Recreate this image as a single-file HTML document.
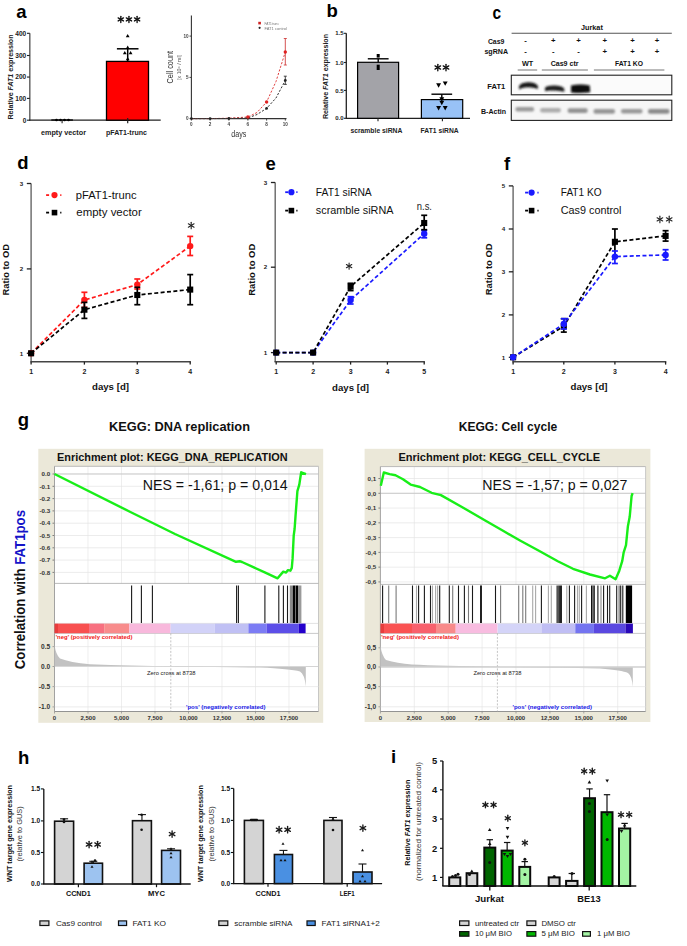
<!DOCTYPE html>
<html><head><meta charset="utf-8"><style>
html,body{margin:0;padding:0;background:#fff;}
svg{display:block;font-family:"Liberation Sans", sans-serif;}
</style></head><body>
<svg width="687" height="946" viewBox="0 0 687 946">
<rect width="687" height="946" fill="#fff"/>
<text x="16.20" y="17.90" font-size="18.5" fill="#000" font-weight="bold" >a</text>
<line x1="29.80" y1="33.30" x2="29.80" y2="120.80" stroke="#666" stroke-width="1.5" />
<line x1="29.20" y1="120.20" x2="160.70" y2="120.20" stroke="#222" stroke-width="1.3" />
<line x1="27.00" y1="33.30" x2="29.80" y2="33.30" stroke="#222" stroke-width="1.1" />
<text x="26.30" y="35.60" font-size="6.6" fill="#222" font-weight="bold" text-anchor="end" >400</text>
<line x1="27.00" y1="55.50" x2="29.80" y2="55.50" stroke="#222" stroke-width="1.1" />
<text x="26.30" y="57.80" font-size="6.6" fill="#222" font-weight="bold" text-anchor="end" >300</text>
<line x1="27.00" y1="77.05" x2="29.80" y2="77.05" stroke="#222" stroke-width="1.1" />
<text x="26.30" y="79.35" font-size="6.6" fill="#222" font-weight="bold" text-anchor="end" >200</text>
<line x1="27.00" y1="98.40" x2="29.80" y2="98.40" stroke="#222" stroke-width="1.1" />
<text x="26.30" y="100.70" font-size="6.6" fill="#222" font-weight="bold" text-anchor="end" >100</text>
<line x1="27.00" y1="120.20" x2="29.80" y2="120.20" stroke="#222" stroke-width="1.1" />
<text x="26.30" y="122.50" font-size="6.6" fill="#222" font-weight="bold" text-anchor="end" >0</text>
<text x="10.8" y="77" font-size="7.6" font-weight="bold" fill="#222" text-anchor="middle" transform="rotate(-90 10.8 77) translate(0 2.6)" textLength="85" lengthAdjust="spacingAndGlyphs">Relative <tspan font-style="italic">FAT1</tspan> expression</text>
<line x1="51.30" y1="120.00" x2="72.90" y2="120.00" stroke="#000" stroke-width="1.3" />
<circle cx="56.50" cy="120.00" r="1.30" fill="#000" />
<circle cx="60.50" cy="120.00" r="1.30" fill="#000" />
<circle cx="64.50" cy="120.00" r="1.30" fill="#000" />
<circle cx="68.50" cy="120.00" r="1.30" fill="#000" />
<line x1="62.10" y1="120.20" x2="62.10" y2="123.20" stroke="#222" stroke-width="1.1" />
<rect x="106.50" y="61.40" width="42.00" height="58.80" fill="#ff0000" stroke="#000" stroke-width="1.3" />
<line x1="127.70" y1="48.80" x2="127.70" y2="61.40" stroke="#000" stroke-width="1.5" />
<line x1="116.90" y1="48.80" x2="138.50" y2="48.80" stroke="#000" stroke-width="1.5" />
<polygon points="125.80,37.31 129.60,37.31 127.70,33.89" fill="#000"/>
<polygon points="125.80,48.91 129.60,48.91 127.70,45.49" fill="#000"/>
<polygon points="122.90,54.31 126.70,54.31 124.80,50.89" fill="#000"/>
<polygon points="128.70,54.31 132.50,54.31 130.60,50.89" fill="#000"/>
<polygon points="125.80,60.31 129.60,60.31 127.70,56.89" fill="#000"/>
<line x1="127.70" y1="118.00" x2="127.70" y2="123.20" stroke="#222" stroke-width="1.2" />
<line x1="120.80" y1="16.35" x2="120.80" y2="22.45" stroke="#111" stroke-width="1.35" stroke-linecap="round"/>
<line x1="118.16" y1="17.88" x2="123.44" y2="20.92" stroke="#111" stroke-width="1.35" stroke-linecap="round"/>
<line x1="123.44" y1="17.88" x2="118.16" y2="20.92" stroke="#111" stroke-width="1.35" stroke-linecap="round"/>
<line x1="128.95" y1="16.35" x2="128.95" y2="22.45" stroke="#111" stroke-width="1.35" stroke-linecap="round"/>
<line x1="126.31" y1="17.88" x2="131.59" y2="20.92" stroke="#111" stroke-width="1.35" stroke-linecap="round"/>
<line x1="131.59" y1="17.88" x2="126.31" y2="20.92" stroke="#111" stroke-width="1.35" stroke-linecap="round"/>
<line x1="137.10" y1="16.35" x2="137.10" y2="22.45" stroke="#111" stroke-width="1.35" stroke-linecap="round"/>
<line x1="134.46" y1="17.88" x2="139.74" y2="20.92" stroke="#111" stroke-width="1.35" stroke-linecap="round"/>
<line x1="139.74" y1="17.88" x2="134.46" y2="20.92" stroke="#111" stroke-width="1.35" stroke-linecap="round"/>
<text x="63.50" y="134.80" font-size="7.8" fill="#222" font-weight="bold" text-anchor="middle" textLength="45.00" lengthAdjust="spacingAndGlyphs" >empty vector</text>
<text x="126.50" y="134.80" font-size="7.8" fill="#222" font-weight="bold" text-anchor="middle" textLength="41.00" lengthAdjust="spacingAndGlyphs" >pFAT1-trunc</text>
<defs><filter id="soft" x="-5%" y="-5%" width="110%" height="110%"><feGaussianBlur stdDeviation="0.45"/></filter></defs>
<g filter="url(#soft)">
<line x1="191.40" y1="15.50" x2="191.40" y2="118.60" stroke="#333" stroke-width="1.1" />
<line x1="191.40" y1="118.60" x2="286.50" y2="118.60" stroke="#333" stroke-width="1.1" />
<line x1="189.50" y1="36.10" x2="191.40" y2="36.10" stroke="#333" stroke-width="0.9" />
<text x="188.60" y="37.80" font-size="4.6" fill="#444" font-weight="bold" text-anchor="end" >10</text>
<line x1="189.50" y1="77.40" x2="191.40" y2="77.40" stroke="#333" stroke-width="0.9" />
<text x="188.60" y="79.10" font-size="4.6" fill="#444" font-weight="bold" text-anchor="end" >5</text>
<line x1="189.50" y1="118.60" x2="191.40" y2="118.60" stroke="#333" stroke-width="0.9" />
<text x="188.60" y="120.30" font-size="4.6" fill="#444" font-weight="bold" text-anchor="end" >0</text>
<line x1="191.40" y1="118.60" x2="191.40" y2="120.60" stroke="#333" stroke-width="0.9" />
<text x="191.40" y="126.00" font-size="4.6" fill="#444" font-weight="bold" text-anchor="middle" >0</text>
<line x1="210.10" y1="118.60" x2="210.10" y2="120.60" stroke="#333" stroke-width="0.9" />
<text x="210.10" y="126.00" font-size="4.6" fill="#444" font-weight="bold" text-anchor="middle" >2</text>
<line x1="228.90" y1="118.60" x2="228.90" y2="120.60" stroke="#333" stroke-width="0.9" />
<text x="228.90" y="126.00" font-size="4.6" fill="#444" font-weight="bold" text-anchor="middle" >4</text>
<line x1="247.90" y1="118.60" x2="247.90" y2="120.60" stroke="#333" stroke-width="0.9" />
<text x="247.90" y="126.00" font-size="4.6" fill="#444" font-weight="bold" text-anchor="middle" >6</text>
<line x1="266.60" y1="118.60" x2="266.60" y2="120.60" stroke="#333" stroke-width="0.9" />
<text x="266.60" y="126.00" font-size="4.6" fill="#444" font-weight="bold" text-anchor="middle" >8</text>
<line x1="285.30" y1="118.60" x2="285.30" y2="120.60" stroke="#333" stroke-width="0.9" />
<text x="285.30" y="126.00" font-size="4.6" fill="#444" font-weight="bold" text-anchor="middle" >10</text>
<text x="173.00" y="67.20" font-size="8.4" fill="#333" text-anchor="middle" textLength="32.50" lengthAdjust="spacingAndGlyphs" transform="rotate(-90 173.00 67.20)" >Cell count</text>
<text x="181.20" y="67.40" font-size="4.6" fill="#555" text-anchor="middle" textLength="25.00" lengthAdjust="spacingAndGlyphs" transform="rotate(-90 181.20 67.40)" >[x 10⁵ / ml]</text>
<text x="238.80" y="137.00" font-size="8.2" fill="#333" text-anchor="middle" textLength="15.00" lengthAdjust="spacingAndGlyphs" >days</text>
<polyline points="191.40,118.60 210.10,118.60 228.90,118.20 247.90,117.00 257.00,112.50 266.60,102.00 276.00,81.50 285.30,52.00" fill="none" stroke="#e04040" stroke-width="1.0" stroke-dasharray="2.2,1.6" />
<polyline points="191.40,118.60 210.10,118.60 228.90,118.50 247.90,118.00 257.00,114.50 266.60,108.40 276.00,98.00 285.30,80.40" fill="none" stroke="#333" stroke-width="1.0" stroke-dasharray="2.2,1.6" />
<line x1="285.30" y1="38.50" x2="285.30" y2="65.00" stroke="#d04040" stroke-width="0.9" />
<line x1="283.80" y1="38.50" x2="286.80" y2="38.50" stroke="#d04040" stroke-width="0.9" />
<line x1="283.80" y1="65.00" x2="286.80" y2="65.00" stroke="#d04040" stroke-width="0.9" />
<line x1="285.30" y1="76.20" x2="285.30" y2="84.40" stroke="#333" stroke-width="0.9" />
<line x1="283.80" y1="76.20" x2="286.80" y2="76.20" stroke="#333" stroke-width="0.9" />
<line x1="283.80" y1="84.40" x2="286.80" y2="84.40" stroke="#333" stroke-width="0.9" />
<circle cx="191.40" cy="118.60" r="1.40" fill="#222" />
<circle cx="210.10" cy="118.60" r="1.40" fill="#222" />
<circle cx="228.90" cy="118.50" r="1.40" fill="#222" />
<circle cx="247.90" cy="118.00" r="1.40" fill="#222" />
<circle cx="266.60" cy="108.40" r="1.40" fill="#222" />
<circle cx="285.30" cy="80.40" r="1.40" fill="#222" />
<circle cx="247.90" cy="117.00" r="1.70" fill="#e02020" />
<circle cx="266.60" cy="102.00" r="1.70" fill="#e02020" />
<circle cx="285.30" cy="52.00" r="1.70" fill="#e02020" />
<rect x="258.30" y="21.80" width="2.60" height="2.60" fill="#d02020" />
<text x="264.50" y="24.60" font-size="4.0" fill="#777" textLength="14.50" lengthAdjust="spacingAndGlyphs" >FAT1trunc</text>
<circle cx="259.60" cy="27.80" r="1.10" fill="#222" />
<text x="264.50" y="29.60" font-size="4.0" fill="#777" textLength="22.50" lengthAdjust="spacingAndGlyphs" >FAT1 control</text>
</g>
<text x="326.50" y="17.40" font-size="18.5" fill="#000" font-weight="bold" >b</text>
<line x1="346.30" y1="33.30" x2="346.30" y2="118.80" stroke="#222" stroke-width="1.3" />
<line x1="345.80" y1="118.30" x2="470.00" y2="118.30" stroke="#222" stroke-width="1.3" />
<line x1="343.90" y1="33.30" x2="346.30" y2="33.30" stroke="#222" stroke-width="1.1" />
<text x="343.50" y="35.40" font-size="6.0" fill="#222" font-weight="bold" text-anchor="end" >1.5</text>
<line x1="343.90" y1="62.50" x2="346.30" y2="62.50" stroke="#222" stroke-width="1.1" />
<text x="343.50" y="64.60" font-size="6.0" fill="#222" font-weight="bold" text-anchor="end" >1.0</text>
<line x1="343.90" y1="90.40" x2="346.30" y2="90.40" stroke="#222" stroke-width="1.1" />
<text x="343.50" y="92.50" font-size="6.0" fill="#222" font-weight="bold" text-anchor="end" >0.5</text>
<line x1="343.90" y1="118.30" x2="346.30" y2="118.30" stroke="#222" stroke-width="1.1" />
<text x="343.50" y="120.40" font-size="6.0" fill="#222" font-weight="bold" text-anchor="end" >0.0</text>
<text x="325.0" y="76.5" font-size="7.6" font-weight="bold" fill="#222" text-anchor="middle" transform="rotate(-90 325.0 76.5) translate(0 2.6)" textLength="85" lengthAdjust="spacingAndGlyphs">Relative <tspan font-style="italic">FAT1</tspan> expression</text>
<rect x="357.60" y="62.30" width="41.00" height="56.00" fill="#a3a3a8" stroke="#000" stroke-width="1.2" />
<line x1="378.20" y1="58.80" x2="378.20" y2="62.30" stroke="#000" stroke-width="1.4" />
<line x1="367.80" y1="58.80" x2="388.60" y2="58.80" stroke="#000" stroke-width="1.4" />
<rect x="376.70" y="54.00" width="3.00" height="3.60" fill="#000" />
<rect x="376.70" y="64.70" width="3.00" height="5.30" fill="#000" />
<line x1="378.00" y1="118.30" x2="378.00" y2="121.30" stroke="#222" stroke-width="1.1" />
<rect x="421.40" y="99.60" width="41.30" height="18.70" fill="#98c2f6" stroke="#000" stroke-width="1.2" />
<line x1="441.80" y1="94.20" x2="441.80" y2="99.60" stroke="#000" stroke-width="1.4" />
<line x1="431.45" y1="94.20" x2="452.15" y2="94.20" stroke="#000" stroke-width="1.4" />
<polygon points="436.15,83.30 441.05,83.30 438.60,87.70" fill="#000"/>
<polygon points="442.75,81.39 447.65,81.39 445.20,85.80" fill="#000"/>
<polygon points="439.35,100.80 444.25,100.80 441.80,105.20" fill="#000"/>
<polygon points="439.35,97.30 444.25,97.30 441.80,101.70" fill="#000"/>
<polygon points="436.15,106.09 441.05,106.09 438.60,110.50" fill="#000"/>
<polygon points="442.75,106.09 447.65,106.09 445.20,110.50" fill="#000"/>
<line x1="442.40" y1="118.30" x2="442.40" y2="121.30" stroke="#222" stroke-width="1.1" />
<line x1="437.80" y1="64.30" x2="437.80" y2="70.70" stroke="#111" stroke-width="1.35" stroke-linecap="round"/>
<line x1="435.03" y1="65.90" x2="440.57" y2="69.10" stroke="#111" stroke-width="1.35" stroke-linecap="round"/>
<line x1="440.57" y1="65.90" x2="435.03" y2="69.10" stroke="#111" stroke-width="1.35" stroke-linecap="round"/>
<line x1="446.00" y1="64.30" x2="446.00" y2="70.70" stroke="#111" stroke-width="1.35" stroke-linecap="round"/>
<line x1="443.23" y1="65.90" x2="448.77" y2="69.10" stroke="#111" stroke-width="1.35" stroke-linecap="round"/>
<line x1="448.77" y1="65.90" x2="443.23" y2="69.10" stroke="#111" stroke-width="1.35" stroke-linecap="round"/>
<text x="376.40" y="133.00" font-size="7.8" fill="#222" font-weight="bold" text-anchor="middle" textLength="52.00" lengthAdjust="spacingAndGlyphs" >scramble siRNA</text>
<text x="439.60" y="133.00" font-size="7.8" fill="#222" font-weight="bold" text-anchor="middle" textLength="38.00" lengthAdjust="spacingAndGlyphs" >FAT1 siRNA</text>
<text x="0" y="0" font-size="18.5" font-weight="bold" fill="#000" transform="translate(492.6 18.5) scale(0.84 1)">c</text>
<text x="591.90" y="30.00" font-size="7.8" fill="#111" font-weight="bold" text-anchor="middle" textLength="21.80" lengthAdjust="spacingAndGlyphs" >Jurkat</text>
<line x1="511.60" y1="33.20" x2="671.80" y2="33.20" stroke="#555" stroke-width="1.1" />
<text x="487.90" y="44.20" font-size="7.3" fill="#111" font-weight="bold" textLength="16.50" lengthAdjust="spacingAndGlyphs" >Cas9</text>
<text x="484.40" y="54.40" font-size="7.3" fill="#111" font-weight="bold" textLength="23.60" lengthAdjust="spacingAndGlyphs" >sgRNA</text>
<text x="525.60" y="43.40" font-size="7.8" fill="#111" font-weight="bold" text-anchor="middle" >-</text>
<text x="525.60" y="54.20" font-size="7.8" fill="#111" font-weight="bold" text-anchor="middle" >-</text>
<text x="553.40" y="43.40" font-size="7.8" fill="#111" font-weight="bold" text-anchor="middle" >+</text>
<text x="553.40" y="54.20" font-size="7.8" fill="#111" font-weight="bold" text-anchor="middle" >-</text>
<text x="578.50" y="43.40" font-size="7.8" fill="#111" font-weight="bold" text-anchor="middle" >+</text>
<text x="578.50" y="54.20" font-size="7.8" fill="#111" font-weight="bold" text-anchor="middle" >-</text>
<text x="604.70" y="43.40" font-size="7.8" fill="#111" font-weight="bold" text-anchor="middle" >+</text>
<text x="604.70" y="54.20" font-size="7.8" fill="#111" font-weight="bold" text-anchor="middle" >+</text>
<text x="632.50" y="43.40" font-size="7.8" fill="#111" font-weight="bold" text-anchor="middle" >+</text>
<text x="632.50" y="54.20" font-size="7.8" fill="#111" font-weight="bold" text-anchor="middle" >+</text>
<text x="657.00" y="43.40" font-size="7.8" fill="#111" font-weight="bold" text-anchor="middle" >+</text>
<text x="657.00" y="54.20" font-size="7.8" fill="#111" font-weight="bold" text-anchor="middle" >+</text>
<text x="527.60" y="66.40" font-size="7.6" fill="#111" font-weight="bold" text-anchor="middle" textLength="11.30" lengthAdjust="spacingAndGlyphs" >WT</text>
<text x="564.60" y="66.40" font-size="7.6" fill="#111" font-weight="bold" text-anchor="middle" textLength="27.90" lengthAdjust="spacingAndGlyphs" >Cas9 ctr</text>
<text x="629.00" y="66.40" font-size="7.6" fill="#111" font-weight="bold" text-anchor="middle" textLength="28.00" lengthAdjust="spacingAndGlyphs" >FAT1 KO</text>
<line x1="517.70" y1="70.00" x2="537.20" y2="70.00" stroke="#777" stroke-width="1.0" />
<line x1="541.80" y1="70.00" x2="587.90" y2="70.00" stroke="#777" stroke-width="1.0" />
<line x1="593.90" y1="70.00" x2="664.40" y2="70.00" stroke="#777" stroke-width="1.0" />
<defs><filter id="bl" x="-50%" y="-50%" width="200%" height="200%"><feGaussianBlur stdDeviation="1.1"/></filter><filter id="bl2" x="-50%" y="-50%" width="200%" height="200%"><feGaussianBlur stdDeviation="0.8"/></filter></defs>
<rect x="511.30" y="75.20" width="160.50" height="19.60" fill="#fbfbfb" stroke="#222" stroke-width="1.1" />
<rect x="511.30" y="100.20" width="160.50" height="20.20" fill="#f6f6f6" stroke="#222" stroke-width="1.1" />
<g filter="url(#bl2)">
<path d="M518.8,86.8 Q520,82.6 528,82.2 Q536,82.4 538,86.2 L538,89.0 Q536,87.6 528,87.2 Q521,87.4 519.2,89.6 Z" fill="#151515"/>
<path d="M544.8,88.0 Q547,85.6 554,85.6 Q562,85.8 564.2,88.6 L564.4,91.8 Q560,90.8 554,90.6 Q547.5,90.4 545.2,91.2 Z" fill="#1c1c1c"/>
<path d="M571.0,85.6 Q580,83.6 589.8,85.4 L590.2,92.2 Q580,93.6 571.0,92.4 Z" fill="#0a0a0a"/>
</g>
<g filter="url(#bl)">
<rect x="515.4" y="106.9" width="18.7" height="4.6" rx="2" fill="#9a9a9a"/>
<rect x="540.1" y="107.9" width="20.8" height="4.6" rx="2" fill="#acacac"/>
<rect x="567.6" y="108.3" width="20.1" height="4.6" rx="2" fill="#929292"/>
<rect x="593.5" y="109.1" width="21.5" height="4.6" rx="2" fill="#959595"/>
<rect x="621.0" y="108.9" width="21.5" height="4.6" rx="2" fill="#989898"/>
<rect x="648.0" y="109.1" width="21.5" height="4.6" rx="2" fill="#8a8a8a"/>
</g>
<text x="487.30" y="89.00" font-size="7.8" fill="#111" font-weight="bold" textLength="18.00" lengthAdjust="spacingAndGlyphs" >FAT1</text>
<text x="481.00" y="113.80" font-size="7.8" fill="#111" font-weight="bold" textLength="25.00" lengthAdjust="spacingAndGlyphs" >B-Actin</text>
<text x="17.30" y="169.40" font-size="18.5" fill="#000" font-weight="bold" >d</text>
<line x1="31.10" y1="183.50" x2="31.10" y2="361.80" stroke="#666" stroke-width="1.4" />
<line x1="30.40" y1="361.80" x2="190.90" y2="361.80" stroke="#444" stroke-width="1.6" />
<line x1="26.80" y1="183.50" x2="31.10" y2="183.50" stroke="#222" stroke-width="1.3" />
<text x="23.10" y="185.70" font-size="6.2" fill="#222" font-weight="bold" text-anchor="end" >3</text>
<line x1="26.80" y1="268.90" x2="31.10" y2="268.90" stroke="#222" stroke-width="1.3" />
<text x="23.10" y="271.10" font-size="6.2" fill="#222" font-weight="bold" text-anchor="end" >2</text>
<line x1="26.80" y1="353.30" x2="31.10" y2="353.30" stroke="#222" stroke-width="1.3" />
<text x="23.10" y="355.50" font-size="6.2" fill="#222" font-weight="bold" text-anchor="end" >1</text>
<line x1="31.10" y1="361.80" x2="31.10" y2="364.60" stroke="#222" stroke-width="1.3" />
<text x="31.10" y="374.00" font-size="7.0" fill="#222" font-weight="bold" text-anchor="middle" >1</text>
<line x1="84.40" y1="361.80" x2="84.40" y2="364.60" stroke="#222" stroke-width="1.3" />
<text x="84.40" y="374.00" font-size="7.0" fill="#222" font-weight="bold" text-anchor="middle" >2</text>
<line x1="137.30" y1="361.80" x2="137.30" y2="364.60" stroke="#222" stroke-width="1.3" />
<text x="137.30" y="374.00" font-size="7.0" fill="#222" font-weight="bold" text-anchor="middle" >3</text>
<line x1="190.20" y1="361.80" x2="190.20" y2="364.60" stroke="#222" stroke-width="1.3" />
<text x="190.20" y="374.00" font-size="7.0" fill="#222" font-weight="bold" text-anchor="middle" >4</text>
<polyline points="31.10,353.30 84.40,300.00 137.30,284.60 190.20,246.10" fill="none" stroke="#ff1a1a" stroke-width="1.7" stroke-dasharray="4,2.4" />
<polyline points="31.10,353.30 84.40,309.70 137.30,295.00 190.20,289.60" fill="none" stroke="#000" stroke-width="1.7" stroke-dasharray="4,2.4" />
<line x1="84.40" y1="292.30" x2="84.40" y2="307.40" stroke="#ff1a1a" stroke-width="1.7" />
<line x1="81.40" y1="292.30" x2="87.40" y2="292.30" stroke="#ff1a1a" stroke-width="1.7" />
<line x1="81.40" y1="307.40" x2="87.40" y2="307.40" stroke="#ff1a1a" stroke-width="1.7" />
<line x1="137.30" y1="279.00" x2="137.30" y2="289.00" stroke="#ff1a1a" stroke-width="1.7" />
<line x1="134.30" y1="279.00" x2="140.30" y2="279.00" stroke="#ff1a1a" stroke-width="1.7" />
<line x1="134.30" y1="289.00" x2="140.30" y2="289.00" stroke="#ff1a1a" stroke-width="1.7" />
<line x1="190.20" y1="236.40" x2="190.20" y2="255.50" stroke="#ff1a1a" stroke-width="1.7" />
<line x1="187.20" y1="236.40" x2="193.20" y2="236.40" stroke="#ff1a1a" stroke-width="1.7" />
<line x1="187.20" y1="255.50" x2="193.20" y2="255.50" stroke="#ff1a1a" stroke-width="1.7" />
<circle cx="31.10" cy="353.30" r="3.20" fill="#ff1a1a" />
<circle cx="84.40" cy="300.00" r="3.20" fill="#ff1a1a" />
<circle cx="137.30" cy="284.60" r="3.20" fill="#ff1a1a" />
<circle cx="190.20" cy="246.10" r="3.20" fill="#ff1a1a" />
<line x1="84.40" y1="302.40" x2="84.40" y2="318.40" stroke="#000" stroke-width="1.7" />
<line x1="81.40" y1="302.40" x2="87.40" y2="302.40" stroke="#000" stroke-width="1.7" />
<line x1="81.40" y1="318.40" x2="87.40" y2="318.40" stroke="#000" stroke-width="1.7" />
<line x1="137.30" y1="287.30" x2="137.30" y2="304.70" stroke="#000" stroke-width="1.7" />
<line x1="134.30" y1="287.30" x2="140.30" y2="287.30" stroke="#000" stroke-width="1.7" />
<line x1="134.30" y1="304.70" x2="140.30" y2="304.70" stroke="#000" stroke-width="1.7" />
<line x1="190.20" y1="274.60" x2="190.20" y2="304.70" stroke="#000" stroke-width="1.7" />
<line x1="187.20" y1="274.60" x2="193.20" y2="274.60" stroke="#000" stroke-width="1.7" />
<line x1="187.20" y1="304.70" x2="193.20" y2="304.70" stroke="#000" stroke-width="1.7" />
<rect x="28.05" y="350.25" width="6.10" height="6.10" fill="#000" />
<rect x="81.35" y="306.65" width="6.10" height="6.10" fill="#000" />
<rect x="134.25" y="291.95" width="6.10" height="6.10" fill="#000" />
<rect x="187.15" y="286.55" width="6.10" height="6.10" fill="#000" />
<line x1="46.10" y1="195.10" x2="49.10" y2="195.10" stroke="#ff1a1a" stroke-width="1.8" />
<line x1="60.20" y1="195.10" x2="61.40" y2="195.10" stroke="#ff1a1a" stroke-width="1.8" />
<circle cx="54.50" cy="195.10" r="3.10" fill="#ff1a1a" />
<text x="75.80" y="198.90" font-size="11.0" fill="#111" textLength="60.70" lengthAdjust="spacingAndGlyphs" >pFAT1-trunc</text>
<line x1="46.10" y1="212.60" x2="49.10" y2="212.60" stroke="#000" stroke-width="1.8" />
<line x1="60.20" y1="212.60" x2="61.40" y2="212.60" stroke="#000" stroke-width="1.8" />
<rect x="51.70" y="209.80" width="5.60" height="5.60" fill="#000" />
<text x="76.30" y="216.40" font-size="11.0" fill="#111" textLength="65.50" lengthAdjust="spacingAndGlyphs" >empty vector</text>
<line x1="191.20" y1="222.20" x2="191.20" y2="228.80" stroke="#222" stroke-width="1.1" stroke-linecap="round"/>
<line x1="188.34" y1="223.85" x2="194.06" y2="227.15" stroke="#222" stroke-width="1.1" stroke-linecap="round"/>
<line x1="194.06" y1="223.85" x2="188.34" y2="227.15" stroke="#222" stroke-width="1.1" stroke-linecap="round"/>
<text x="9.10" y="269.80" font-size="9.8" fill="#111" font-weight="bold" text-anchor="middle" textLength="51.50" lengthAdjust="spacingAndGlyphs" transform="rotate(-90 9.10 269.80)" >Ratio to OD</text>
<text x="110.50" y="390.00" font-size="9.6" fill="#111" font-weight="bold" text-anchor="middle" textLength="37.00" lengthAdjust="spacingAndGlyphs" >days [d]</text>
<text x="265.60" y="170.00" font-size="18.5" fill="#000" font-weight="bold" >e</text>
<line x1="275.20" y1="182.50" x2="275.20" y2="361.80" stroke="#666" stroke-width="1.4" />
<line x1="274.50" y1="361.80" x2="424.90" y2="361.80" stroke="#444" stroke-width="1.6" />
<line x1="270.90" y1="182.50" x2="275.20" y2="182.50" stroke="#222" stroke-width="1.3" />
<text x="267.20" y="184.70" font-size="6.2" fill="#222" font-weight="bold" text-anchor="end" >3</text>
<line x1="270.90" y1="267.20" x2="275.20" y2="267.20" stroke="#222" stroke-width="1.3" />
<text x="267.20" y="269.40" font-size="6.2" fill="#222" font-weight="bold" text-anchor="end" >2</text>
<line x1="270.90" y1="352.60" x2="275.20" y2="352.60" stroke="#222" stroke-width="1.3" />
<text x="267.20" y="354.80" font-size="6.2" fill="#222" font-weight="bold" text-anchor="end" >1</text>
<line x1="276.20" y1="361.80" x2="276.20" y2="364.60" stroke="#222" stroke-width="1.3" />
<text x="276.20" y="374.00" font-size="7.0" fill="#222" font-weight="bold" text-anchor="middle" >1</text>
<line x1="313.10" y1="361.80" x2="313.10" y2="364.60" stroke="#222" stroke-width="1.3" />
<text x="313.10" y="374.00" font-size="7.0" fill="#222" font-weight="bold" text-anchor="middle" >2</text>
<line x1="350.60" y1="361.80" x2="350.60" y2="364.60" stroke="#222" stroke-width="1.3" />
<text x="350.60" y="374.00" font-size="7.0" fill="#222" font-weight="bold" text-anchor="middle" >3</text>
<line x1="387.40" y1="361.80" x2="387.40" y2="364.60" stroke="#222" stroke-width="1.3" />
<text x="387.40" y="374.00" font-size="7.0" fill="#222" font-weight="bold" text-anchor="middle" >4</text>
<line x1="424.20" y1="361.80" x2="424.20" y2="364.60" stroke="#222" stroke-width="1.3" />
<text x="424.20" y="374.00" font-size="7.0" fill="#222" font-weight="bold" text-anchor="middle" >5</text>
<polyline points="276.20,352.60 313.10,352.60 350.60,300.00 424.20,233.70" fill="none" stroke="#1a1aff" stroke-width="1.7" stroke-dasharray="4,2.4" />
<polyline points="276.20,352.60 313.10,352.60 350.60,286.60 424.20,223.00" fill="none" stroke="#000" stroke-width="1.7" stroke-dasharray="4,2.4" />
<line x1="350.60" y1="296.70" x2="350.60" y2="304.00" stroke="#1a1aff" stroke-width="1.7" />
<line x1="347.60" y1="296.70" x2="353.60" y2="296.70" stroke="#1a1aff" stroke-width="1.7" />
<line x1="347.60" y1="304.00" x2="353.60" y2="304.00" stroke="#1a1aff" stroke-width="1.7" />
<line x1="424.20" y1="230.40" x2="424.20" y2="237.80" stroke="#1a1aff" stroke-width="1.7" />
<line x1="421.20" y1="230.40" x2="427.20" y2="230.40" stroke="#1a1aff" stroke-width="1.7" />
<line x1="421.20" y1="237.80" x2="427.20" y2="237.80" stroke="#1a1aff" stroke-width="1.7" />
<circle cx="276.20" cy="352.60" r="3.20" fill="#1a1aff" />
<circle cx="313.10" cy="352.60" r="3.20" fill="#1a1aff" />
<circle cx="350.60" cy="300.00" r="3.20" fill="#1a1aff" />
<circle cx="424.20" cy="233.70" r="3.20" fill="#1a1aff" />
<line x1="350.60" y1="283.30" x2="350.60" y2="290.60" stroke="#000" stroke-width="1.7" />
<line x1="347.60" y1="283.30" x2="353.60" y2="283.30" stroke="#000" stroke-width="1.7" />
<line x1="347.60" y1="290.60" x2="353.60" y2="290.60" stroke="#000" stroke-width="1.7" />
<line x1="424.20" y1="215.30" x2="424.20" y2="229.70" stroke="#000" stroke-width="1.7" />
<line x1="421.20" y1="215.30" x2="427.20" y2="215.30" stroke="#000" stroke-width="1.7" />
<line x1="421.20" y1="229.70" x2="427.20" y2="229.70" stroke="#000" stroke-width="1.7" />
<rect x="273.15" y="349.55" width="6.10" height="6.10" fill="#000" />
<rect x="310.05" y="349.55" width="6.10" height="6.10" fill="#000" />
<rect x="347.55" y="283.55" width="6.10" height="6.10" fill="#000" />
<rect x="421.15" y="219.95" width="6.10" height="6.10" fill="#000" />
<line x1="285.20" y1="192.20" x2="288.20" y2="192.20" stroke="#1a1aff" stroke-width="1.8" />
<line x1="296.30" y1="192.20" x2="297.50" y2="192.20" stroke="#1a1aff" stroke-width="1.8" />
<circle cx="291.40" cy="192.20" r="3.10" fill="#1a1aff" />
<text x="315.80" y="196.00" font-size="11.0" fill="#111" textLength="55.90" lengthAdjust="spacingAndGlyphs" >FAT1 siRNA</text>
<line x1="285.20" y1="210.60" x2="288.20" y2="210.60" stroke="#000" stroke-width="1.8" />
<line x1="296.30" y1="210.60" x2="297.50" y2="210.60" stroke="#000" stroke-width="1.8" />
<rect x="288.60" y="207.80" width="5.60" height="5.60" fill="#000" />
<text x="315.80" y="214.40" font-size="11.0" fill="#111" textLength="77.70" lengthAdjust="spacingAndGlyphs" >scramble siRNA</text>
<line x1="349.10" y1="263.00" x2="349.10" y2="269.20" stroke="#222" stroke-width="1.1" stroke-linecap="round"/>
<line x1="346.42" y1="264.55" x2="351.78" y2="267.65" stroke="#222" stroke-width="1.1" stroke-linecap="round"/>
<line x1="351.78" y1="264.55" x2="346.42" y2="267.65" stroke="#222" stroke-width="1.1" stroke-linecap="round"/>
<text x="424.40" y="210.00" font-size="10.5" fill="#222" text-anchor="middle" textLength="15.20" lengthAdjust="spacingAndGlyphs" >n.s.</text>
<text x="254.50" y="269.75" font-size="9.8" fill="#111" font-weight="bold" text-anchor="middle" textLength="52.00" lengthAdjust="spacingAndGlyphs" transform="rotate(-90 254.50 269.75)" >Ratio to OD</text>
<text x="350.60" y="390.70" font-size="9.6" fill="#111" font-weight="bold" text-anchor="middle" textLength="37.00" lengthAdjust="spacingAndGlyphs" >days [d]</text>
<text x="504.00" y="170.30" font-size="18.5" fill="#000" font-weight="bold" >f</text>
<line x1="513.10" y1="185.90" x2="513.10" y2="361.80" stroke="#666" stroke-width="1.4" />
<line x1="512.40" y1="361.80" x2="666.30" y2="361.80" stroke="#444" stroke-width="1.6" />
<line x1="508.80" y1="185.90" x2="513.10" y2="185.90" stroke="#222" stroke-width="1.3" />
<text x="505.10" y="188.10" font-size="6.2" fill="#222" font-weight="bold" text-anchor="end" >5</text>
<line x1="508.80" y1="229.00" x2="513.10" y2="229.00" stroke="#222" stroke-width="1.3" />
<text x="505.10" y="231.20" font-size="6.2" fill="#222" font-weight="bold" text-anchor="end" >4</text>
<line x1="508.80" y1="271.80" x2="513.10" y2="271.80" stroke="#222" stroke-width="1.3" />
<text x="505.10" y="274.00" font-size="6.2" fill="#222" font-weight="bold" text-anchor="end" >3</text>
<line x1="508.80" y1="314.90" x2="513.10" y2="314.90" stroke="#222" stroke-width="1.3" />
<text x="505.10" y="317.10" font-size="6.2" fill="#222" font-weight="bold" text-anchor="end" >2</text>
<line x1="508.80" y1="357.30" x2="513.10" y2="357.30" stroke="#222" stroke-width="1.3" />
<text x="505.10" y="359.50" font-size="6.2" fill="#222" font-weight="bold" text-anchor="end" >1</text>
<line x1="513.10" y1="361.80" x2="513.10" y2="364.60" stroke="#222" stroke-width="1.3" />
<text x="513.10" y="374.00" font-size="7.0" fill="#222" font-weight="bold" text-anchor="middle" >1</text>
<line x1="563.80" y1="361.80" x2="563.80" y2="364.60" stroke="#222" stroke-width="1.3" />
<text x="563.80" y="374.00" font-size="7.0" fill="#222" font-weight="bold" text-anchor="middle" >2</text>
<line x1="614.90" y1="361.80" x2="614.90" y2="364.60" stroke="#222" stroke-width="1.3" />
<text x="614.90" y="374.00" font-size="7.0" fill="#222" font-weight="bold" text-anchor="middle" >3</text>
<line x1="665.60" y1="361.80" x2="665.60" y2="364.60" stroke="#222" stroke-width="1.3" />
<text x="665.60" y="374.00" font-size="7.0" fill="#222" font-weight="bold" text-anchor="middle" >4</text>
<polyline points="513.10,357.30 563.80,326.30 614.90,241.80 665.60,235.90" fill="none" stroke="#000" stroke-width="1.7" stroke-dasharray="4,2.4" />
<polyline points="513.10,357.30 563.80,323.90 614.90,256.60 665.60,254.90" fill="none" stroke="#1a1aff" stroke-width="1.7" stroke-dasharray="4,2.4" />
<line x1="563.80" y1="318.70" x2="563.80" y2="332.10" stroke="#000" stroke-width="1.7" />
<line x1="560.80" y1="318.70" x2="566.80" y2="318.70" stroke="#000" stroke-width="1.7" />
<line x1="560.80" y1="332.10" x2="566.80" y2="332.10" stroke="#000" stroke-width="1.7" />
<line x1="614.90" y1="229.00" x2="614.90" y2="256.60" stroke="#000" stroke-width="1.7" />
<line x1="611.90" y1="229.00" x2="617.90" y2="229.00" stroke="#000" stroke-width="1.7" />
<line x1="611.90" y1="256.60" x2="617.90" y2="256.60" stroke="#000" stroke-width="1.7" />
<line x1="665.60" y1="230.70" x2="665.60" y2="241.10" stroke="#000" stroke-width="1.7" />
<line x1="662.60" y1="230.70" x2="668.60" y2="230.70" stroke="#000" stroke-width="1.7" />
<line x1="662.60" y1="241.10" x2="668.60" y2="241.10" stroke="#000" stroke-width="1.7" />
<rect x="510.05" y="354.25" width="6.10" height="6.10" fill="#000" />
<rect x="560.75" y="323.25" width="6.10" height="6.10" fill="#000" />
<rect x="611.85" y="238.75" width="6.10" height="6.10" fill="#000" />
<rect x="662.55" y="232.85" width="6.10" height="6.10" fill="#000" />
<line x1="563.80" y1="318.70" x2="563.80" y2="329.00" stroke="#1a1aff" stroke-width="1.7" />
<line x1="560.80" y1="318.70" x2="566.80" y2="318.70" stroke="#1a1aff" stroke-width="1.7" />
<line x1="560.80" y1="329.00" x2="566.80" y2="329.00" stroke="#1a1aff" stroke-width="1.7" />
<line x1="614.90" y1="251.00" x2="614.90" y2="263.50" stroke="#1a1aff" stroke-width="1.7" />
<line x1="611.90" y1="251.00" x2="617.90" y2="251.00" stroke="#1a1aff" stroke-width="1.7" />
<line x1="611.90" y1="263.50" x2="617.90" y2="263.50" stroke="#1a1aff" stroke-width="1.7" />
<line x1="665.60" y1="249.70" x2="665.60" y2="260.00" stroke="#1a1aff" stroke-width="1.7" />
<line x1="662.60" y1="249.70" x2="668.60" y2="249.70" stroke="#1a1aff" stroke-width="1.7" />
<line x1="662.60" y1="260.00" x2="668.60" y2="260.00" stroke="#1a1aff" stroke-width="1.7" />
<circle cx="513.10" cy="357.30" r="3.20" fill="#1a1aff" />
<circle cx="563.80" cy="323.90" r="3.20" fill="#1a1aff" />
<circle cx="614.90" cy="256.60" r="3.20" fill="#1a1aff" />
<circle cx="665.60" cy="254.90" r="3.20" fill="#1a1aff" />
<line x1="525.10" y1="192.60" x2="528.10" y2="192.60" stroke="#1a1aff" stroke-width="1.8" />
<line x1="537.40" y1="192.60" x2="538.60" y2="192.60" stroke="#1a1aff" stroke-width="1.8" />
<circle cx="531.60" cy="192.60" r="3.10" fill="#1a1aff" />
<text x="560.80" y="196.40" font-size="11.0" fill="#111" textLength="40.70" lengthAdjust="spacingAndGlyphs" >FAT1 KO</text>
<line x1="525.10" y1="210.60" x2="528.10" y2="210.60" stroke="#000" stroke-width="1.8" />
<line x1="537.40" y1="210.60" x2="538.60" y2="210.60" stroke="#000" stroke-width="1.8" />
<rect x="528.80" y="207.80" width="5.60" height="5.60" fill="#000" />
<text x="560.80" y="214.40" font-size="11.0" fill="#111" textLength="60.70" lengthAdjust="spacingAndGlyphs" >Cas9 control</text>
<line x1="659.90" y1="216.14" x2="659.90" y2="222.66" stroke="#222" stroke-width="1.1" stroke-linecap="round"/>
<line x1="657.08" y1="217.77" x2="662.72" y2="221.03" stroke="#222" stroke-width="1.1" stroke-linecap="round"/>
<line x1="662.72" y1="217.77" x2="657.08" y2="221.03" stroke="#222" stroke-width="1.1" stroke-linecap="round"/>
<line x1="669.20" y1="216.14" x2="669.20" y2="222.66" stroke="#222" stroke-width="1.1" stroke-linecap="round"/>
<line x1="666.38" y1="217.77" x2="672.02" y2="221.03" stroke="#222" stroke-width="1.1" stroke-linecap="round"/>
<line x1="672.02" y1="217.77" x2="666.38" y2="221.03" stroke="#222" stroke-width="1.1" stroke-linecap="round"/>
<text x="491.80" y="269.35" font-size="9.8" fill="#111" font-weight="bold" text-anchor="middle" textLength="51.70" lengthAdjust="spacingAndGlyphs" transform="rotate(-90 491.80 269.35)" >Ratio to OD</text>
<text x="589.00" y="390.30" font-size="9.6" fill="#111" font-weight="bold" text-anchor="middle" textLength="37.00" lengthAdjust="spacingAndGlyphs" >days [d]</text>
<text x="17.80" y="425.60" font-size="18.5" fill="#000" font-weight="bold" >g</text>
<text x="179.50" y="430.60" font-size="13.2" fill="#111" font-weight="bold" text-anchor="middle" textLength="141.00" lengthAdjust="spacingAndGlyphs" >KEGG: DNA replication</text>
<text x="508.00" y="430.60" font-size="13.2" fill="#111" font-weight="bold" text-anchor="middle" textLength="98.50" lengthAdjust="spacingAndGlyphs" >KEGG: Cell cycle</text>
<text x="20.3" y="589.6" font-size="14.6" font-weight="bold" fill="#111" text-anchor="middle" transform="rotate(-90 20.3 589.6) translate(0 5.2)" textLength="159.3" lengthAdjust="spacingAndGlyphs">Correlation with <tspan fill="#1414c8">FAT1pos</tspan></text>
<rect x="38.30" y="448.80" width="284.90" height="274.00" fill="#ebe8d9" />
<rect x="54.50" y="466.30" width="264.00" height="245.20" fill="#ffffff" />
<text x="57.00" y="460.80" font-size="11.0" fill="#111" font-weight="bold" textLength="230.60" lengthAdjust="spacingAndGlyphs" >Enrichment plot: KEGG_DNA_REPLICATION</text>
<line x1="88.00" y1="466.30" x2="88.00" y2="583.40" stroke="#e6e6e6" stroke-width="0.7" />
<line x1="88.00" y1="633.50" x2="88.00" y2="711.50" stroke="#e6e6e6" stroke-width="0.7" />
<line x1="121.50" y1="466.30" x2="121.50" y2="583.40" stroke="#e6e6e6" stroke-width="0.7" />
<line x1="121.50" y1="633.50" x2="121.50" y2="711.50" stroke="#e6e6e6" stroke-width="0.7" />
<line x1="155.00" y1="466.30" x2="155.00" y2="583.40" stroke="#e6e6e6" stroke-width="0.7" />
<line x1="155.00" y1="633.50" x2="155.00" y2="711.50" stroke="#e6e6e6" stroke-width="0.7" />
<line x1="188.50" y1="466.30" x2="188.50" y2="583.40" stroke="#e6e6e6" stroke-width="0.7" />
<line x1="188.50" y1="633.50" x2="188.50" y2="711.50" stroke="#e6e6e6" stroke-width="0.7" />
<line x1="222.00" y1="466.30" x2="222.00" y2="583.40" stroke="#e6e6e6" stroke-width="0.7" />
<line x1="222.00" y1="633.50" x2="222.00" y2="711.50" stroke="#e6e6e6" stroke-width="0.7" />
<line x1="255.50" y1="466.30" x2="255.50" y2="583.40" stroke="#e6e6e6" stroke-width="0.7" />
<line x1="255.50" y1="633.50" x2="255.50" y2="711.50" stroke="#e6e6e6" stroke-width="0.7" />
<line x1="289.00" y1="466.30" x2="289.00" y2="583.40" stroke="#e6e6e6" stroke-width="0.7" />
<line x1="289.00" y1="633.50" x2="289.00" y2="711.50" stroke="#e6e6e6" stroke-width="0.7" />
<line x1="54.50" y1="474.00" x2="318.50" y2="474.00" stroke="#e4e4e4" stroke-width="0.7" />
<line x1="52.50" y1="474.00" x2="54.50" y2="474.00" stroke="#666" stroke-width="0.8" />
<text x="50.20" y="476.20" font-size="6.2" fill="#333" font-weight="bold" text-anchor="end" >0.0</text>
<line x1="54.50" y1="486.30" x2="318.50" y2="486.30" stroke="#e4e4e4" stroke-width="0.7" />
<line x1="52.50" y1="486.30" x2="54.50" y2="486.30" stroke="#666" stroke-width="0.8" />
<text x="50.20" y="488.50" font-size="6.2" fill="#333" font-weight="bold" text-anchor="end" >-0.1</text>
<line x1="54.50" y1="498.60" x2="318.50" y2="498.60" stroke="#e4e4e4" stroke-width="0.7" />
<line x1="52.50" y1="498.60" x2="54.50" y2="498.60" stroke="#666" stroke-width="0.8" />
<text x="50.20" y="500.80" font-size="6.2" fill="#333" font-weight="bold" text-anchor="end" >-0.2</text>
<line x1="54.50" y1="510.90" x2="318.50" y2="510.90" stroke="#e4e4e4" stroke-width="0.7" />
<line x1="52.50" y1="510.90" x2="54.50" y2="510.90" stroke="#666" stroke-width="0.8" />
<text x="50.20" y="513.10" font-size="6.2" fill="#333" font-weight="bold" text-anchor="end" >-0.3</text>
<line x1="54.50" y1="523.20" x2="318.50" y2="523.20" stroke="#e4e4e4" stroke-width="0.7" />
<line x1="52.50" y1="523.20" x2="54.50" y2="523.20" stroke="#666" stroke-width="0.8" />
<text x="50.20" y="525.40" font-size="6.2" fill="#333" font-weight="bold" text-anchor="end" >-0.4</text>
<line x1="54.50" y1="535.50" x2="318.50" y2="535.50" stroke="#e4e4e4" stroke-width="0.7" />
<line x1="52.50" y1="535.50" x2="54.50" y2="535.50" stroke="#666" stroke-width="0.8" />
<text x="50.20" y="537.70" font-size="6.2" fill="#333" font-weight="bold" text-anchor="end" >-0.5</text>
<line x1="54.50" y1="547.80" x2="318.50" y2="547.80" stroke="#e4e4e4" stroke-width="0.7" />
<line x1="52.50" y1="547.80" x2="54.50" y2="547.80" stroke="#666" stroke-width="0.8" />
<text x="50.20" y="550.00" font-size="6.2" fill="#333" font-weight="bold" text-anchor="end" >-0.6</text>
<line x1="54.50" y1="560.10" x2="318.50" y2="560.10" stroke="#e4e4e4" stroke-width="0.7" />
<line x1="52.50" y1="560.10" x2="54.50" y2="560.10" stroke="#666" stroke-width="0.8" />
<text x="50.20" y="562.30" font-size="6.2" fill="#333" font-weight="bold" text-anchor="end" >-0.7</text>
<line x1="54.50" y1="572.40" x2="318.50" y2="572.40" stroke="#e4e4e4" stroke-width="0.7" />
<line x1="52.50" y1="572.40" x2="54.50" y2="572.40" stroke="#666" stroke-width="0.8" />
<text x="50.20" y="574.60" font-size="6.2" fill="#333" font-weight="bold" text-anchor="end" >-0.8</text>
<line x1="54.50" y1="474.00" x2="318.50" y2="474.00" stroke="#bcbcbc" stroke-width="0.7" />
<line x1="54.50" y1="466.30" x2="318.50" y2="466.30" stroke="#aaa" stroke-width="0.8" />
<line x1="54.50" y1="466.30" x2="54.50" y2="711.50" stroke="#999" stroke-width="0.9" />
<line x1="318.50" y1="466.30" x2="318.50" y2="711.50" stroke="#bbb" stroke-width="0.8" />
<line x1="54.50" y1="583.40" x2="318.50" y2="583.40" stroke="#aaa" stroke-width="0.8" />
<line x1="54.50" y1="623.40" x2="318.50" y2="623.40" stroke="#ccc" stroke-width="0.6" />
<line x1="54.50" y1="633.40" x2="318.50" y2="633.40" stroke="#bbb" stroke-width="0.8" />
<line x1="54.50" y1="711.50" x2="318.50" y2="711.50" stroke="#888" stroke-width="0.9" />
<polyline points="54.50,474.00 130.40,512.00 175.00,534.00 236.00,561.80 239.70,561.20 242.00,562.00 265.30,572.60 277.60,578.30 283.30,571.60 286.10,572.60 288.00,570.10 290.40,570.70 291.80,567.90 292.60,558.40 293.70,535.70 294.60,529.00 295.60,514.90 297.40,491.20 299.30,484.60 300.30,478.00 301.20,472.30 306.00,474.20" fill="none" stroke="#18ee18" stroke-width="2.4" stroke-linejoin="round"/>
<line x1="131.60" y1="585.50" x2="131.60" y2="623.00" stroke="#1a1a1a" stroke-width="1.1" />
<line x1="141.40" y1="585.50" x2="141.40" y2="623.00" stroke="#1a1a1a" stroke-width="1.1" />
<line x1="152.40" y1="585.50" x2="152.40" y2="623.00" stroke="#1a1a1a" stroke-width="1.1" />
<line x1="236.60" y1="585.50" x2="236.60" y2="623.00" stroke="#1a1a1a" stroke-width="1.1" />
<line x1="238.40" y1="585.50" x2="238.40" y2="623.00" stroke="#1a1a1a" stroke-width="1.1" />
<line x1="264.90" y1="585.50" x2="264.90" y2="623.00" stroke="#1a1a1a" stroke-width="1.1" />
<line x1="278.80" y1="585.50" x2="278.80" y2="623.00" stroke="#1a1a1a" stroke-width="1.1" />
<line x1="283.40" y1="585.50" x2="283.40" y2="623.00" stroke="#1a1a1a" stroke-width="1.1" />
<line x1="287.50" y1="585.50" x2="287.50" y2="623.00" stroke="#1a1a1a" stroke-width="1.1" />
<rect x="289.80" y="585.50" width="3.00" height="37.50" fill="#8a8a8a" />
<rect x="292.80" y="585.50" width="2.50" height="37.50" fill="#050505" />
<rect x="295.30" y="585.50" width="0.70" height="37.50" fill="#555" />
<rect x="296.00" y="585.50" width="2.00" height="37.50" fill="#050505" />
<rect x="298.00" y="585.50" width="3.40" height="37.50" fill="#9a9a9a" />
<rect x="54.50" y="623.60" width="3.50" height="9.60" fill="#e83c3c" />
<rect x="58.00" y="623.60" width="31.00" height="9.60" fill="#f85050" />
<rect x="89.00" y="623.60" width="15.20" height="9.60" fill="#f87080" />
<rect x="104.20" y="623.60" width="25.10" height="9.60" fill="#f88c8c" />
<rect x="129.30" y="623.60" width="41.30" height="9.60" fill="#f8b8dc" />
<rect x="170.60" y="623.60" width="44.20" height="9.60" fill="#d2d2f8" />
<rect x="214.80" y="623.60" width="33.60" height="9.60" fill="#c0c0f4" />
<rect x="248.40" y="623.60" width="18.30" height="9.60" fill="#7c7cf4" />
<rect x="266.70" y="623.60" width="32.00" height="9.60" fill="#5c4ee8" />
<rect x="298.70" y="623.60" width="6.90" height="9.60" fill="#2400cc" />
<text x="142.70" y="489.80" font-size="15.0" fill="#111" textLength="145.00" lengthAdjust="spacingAndGlyphs" >NES = -1,61; p = 0,014</text>
<line x1="54.50" y1="666.50" x2="318.50" y2="666.50" stroke="#a8a8a8" stroke-width="0.9" />
<line x1="170.80" y1="633.40" x2="170.80" y2="711.50" stroke="#aaa" stroke-width="0.7" stroke-dasharray="2,1.5" />
<path d="M54.5,666.5 L54.5,645 Q56,655 60,658.5 Q70,662.5 90,664.2 Q130,665.6 175,666.3 L175,666.5 Z" fill="#c2c2c2"/>
<path d="M175,666.5 Q240,667.2 260,667.6 Q290,669 300,671.5 Q304.5,674 305.8,686.5 L305.8,666.5 Z" fill="#c2c2c2"/>
<line x1="54.50" y1="646.60" x2="318.50" y2="646.60" stroke="#e4e4e4" stroke-width="0.7" />
<line x1="52.50" y1="646.60" x2="54.50" y2="646.60" stroke="#888" stroke-width="0.7" />
<text x="50.20" y="648.90" font-size="6.6" fill="#333" font-weight="bold" text-anchor="end" >0.5</text>
<line x1="54.50" y1="666.50" x2="318.50" y2="666.50" stroke="#e4e4e4" stroke-width="0.7" />
<line x1="52.50" y1="666.50" x2="54.50" y2="666.50" stroke="#888" stroke-width="0.7" />
<text x="50.20" y="668.80" font-size="6.6" fill="#333" font-weight="bold" text-anchor="end" >0.0</text>
<line x1="54.50" y1="686.60" x2="318.50" y2="686.60" stroke="#e4e4e4" stroke-width="0.7" />
<line x1="52.50" y1="686.60" x2="54.50" y2="686.60" stroke="#888" stroke-width="0.7" />
<text x="50.20" y="688.90" font-size="6.6" fill="#333" font-weight="bold" text-anchor="end" >-0.5</text>
<line x1="54.50" y1="706.90" x2="318.50" y2="706.90" stroke="#e4e4e4" stroke-width="0.7" />
<line x1="52.50" y1="706.90" x2="54.50" y2="706.90" stroke="#888" stroke-width="0.7" />
<text x="50.20" y="709.20" font-size="6.6" fill="#333" font-weight="bold" text-anchor="end" >-1.0</text>
<line x1="54.50" y1="711.50" x2="54.50" y2="713.50" stroke="#888" stroke-width="0.7" />
<text x="54.50" y="720.40" font-size="6.0" fill="#333" font-weight="bold" text-anchor="middle" >0</text>
<line x1="88.00" y1="711.50" x2="88.00" y2="713.50" stroke="#888" stroke-width="0.7" />
<text x="88.00" y="720.40" font-size="6.0" fill="#333" font-weight="bold" text-anchor="middle" >2,500</text>
<line x1="121.50" y1="711.50" x2="121.50" y2="713.50" stroke="#888" stroke-width="0.7" />
<text x="121.50" y="720.40" font-size="6.0" fill="#333" font-weight="bold" text-anchor="middle" >5,000</text>
<line x1="155.00" y1="711.50" x2="155.00" y2="713.50" stroke="#888" stroke-width="0.7" />
<text x="155.00" y="720.40" font-size="6.0" fill="#333" font-weight="bold" text-anchor="middle" >7,500</text>
<line x1="188.50" y1="711.50" x2="188.50" y2="713.50" stroke="#888" stroke-width="0.7" />
<text x="188.50" y="720.40" font-size="6.0" fill="#333" font-weight="bold" text-anchor="middle" >10,000</text>
<line x1="222.00" y1="711.50" x2="222.00" y2="713.50" stroke="#888" stroke-width="0.7" />
<text x="222.00" y="720.40" font-size="6.0" fill="#333" font-weight="bold" text-anchor="middle" >12,500</text>
<line x1="255.50" y1="711.50" x2="255.50" y2="713.50" stroke="#888" stroke-width="0.7" />
<text x="255.50" y="720.40" font-size="6.0" fill="#333" font-weight="bold" text-anchor="middle" >15,000</text>
<line x1="289.00" y1="711.50" x2="289.00" y2="713.50" stroke="#888" stroke-width="0.7" />
<text x="289.00" y="720.40" font-size="6.0" fill="#333" font-weight="bold" text-anchor="middle" >17,500</text>
<text x="55.70" y="639.20" font-size="6.0" fill="#f01818" font-weight="bold" textLength="76.70" lengthAdjust="spacingAndGlyphs" >'neg' (positively correlated)</text>
<text x="186.00" y="708.60" font-size="6.0" fill="#1818e8" font-weight="bold" textLength="79.50" lengthAdjust="spacingAndGlyphs" >'pos' (negatively correlated)</text>
<text x="147.00" y="674.80" font-size="5.2" fill="#222" textLength="48.50" lengthAdjust="spacingAndGlyphs" >Zero cross at 8738</text>
<rect x="364.60" y="448.80" width="285.80" height="273.20" fill="#ebe8d9" />
<rect x="380.40" y="466.60" width="265.20" height="244.90" fill="#ffffff" />
<text x="398.40" y="460.80" font-size="11.0" fill="#111" font-weight="bold" textLength="201.80" lengthAdjust="spacingAndGlyphs" >Enrichment plot: KEGG_CELL_CYCLE</text>
<line x1="414.30" y1="466.60" x2="414.30" y2="584.40" stroke="#e6e6e6" stroke-width="0.7" />
<line x1="414.30" y1="633.50" x2="414.30" y2="711.50" stroke="#e6e6e6" stroke-width="0.7" />
<line x1="448.20" y1="466.60" x2="448.20" y2="584.40" stroke="#e6e6e6" stroke-width="0.7" />
<line x1="448.20" y1="633.50" x2="448.20" y2="711.50" stroke="#e6e6e6" stroke-width="0.7" />
<line x1="482.10" y1="466.60" x2="482.10" y2="584.40" stroke="#e6e6e6" stroke-width="0.7" />
<line x1="482.10" y1="633.50" x2="482.10" y2="711.50" stroke="#e6e6e6" stroke-width="0.7" />
<line x1="516.00" y1="466.60" x2="516.00" y2="584.40" stroke="#e6e6e6" stroke-width="0.7" />
<line x1="516.00" y1="633.50" x2="516.00" y2="711.50" stroke="#e6e6e6" stroke-width="0.7" />
<line x1="549.90" y1="466.60" x2="549.90" y2="584.40" stroke="#e6e6e6" stroke-width="0.7" />
<line x1="549.90" y1="633.50" x2="549.90" y2="711.50" stroke="#e6e6e6" stroke-width="0.7" />
<line x1="583.80" y1="466.60" x2="583.80" y2="584.40" stroke="#e6e6e6" stroke-width="0.7" />
<line x1="583.80" y1="633.50" x2="583.80" y2="711.50" stroke="#e6e6e6" stroke-width="0.7" />
<line x1="617.70" y1="466.60" x2="617.70" y2="584.40" stroke="#e6e6e6" stroke-width="0.7" />
<line x1="617.70" y1="633.50" x2="617.70" y2="711.50" stroke="#e6e6e6" stroke-width="0.7" />
<line x1="380.40" y1="478.53" x2="645.60" y2="478.53" stroke="#e4e4e4" stroke-width="0.7" />
<line x1="378.40" y1="478.53" x2="380.40" y2="478.53" stroke="#666" stroke-width="0.8" />
<text x="376.10" y="480.73" font-size="6.2" fill="#333" font-weight="bold" text-anchor="end" >0,1</text>
<line x1="380.40" y1="493.30" x2="645.60" y2="493.30" stroke="#e4e4e4" stroke-width="0.7" />
<line x1="378.40" y1="493.30" x2="380.40" y2="493.30" stroke="#666" stroke-width="0.8" />
<text x="376.10" y="495.50" font-size="6.2" fill="#333" font-weight="bold" text-anchor="end" >0,0</text>
<line x1="380.40" y1="508.07" x2="645.60" y2="508.07" stroke="#e4e4e4" stroke-width="0.7" />
<line x1="378.40" y1="508.07" x2="380.40" y2="508.07" stroke="#666" stroke-width="0.8" />
<text x="376.10" y="510.27" font-size="6.2" fill="#333" font-weight="bold" text-anchor="end" >-0,1</text>
<line x1="380.40" y1="522.84" x2="645.60" y2="522.84" stroke="#e4e4e4" stroke-width="0.7" />
<line x1="378.40" y1="522.84" x2="380.40" y2="522.84" stroke="#666" stroke-width="0.8" />
<text x="376.10" y="525.04" font-size="6.2" fill="#333" font-weight="bold" text-anchor="end" >-0,2</text>
<line x1="380.40" y1="537.61" x2="645.60" y2="537.61" stroke="#e4e4e4" stroke-width="0.7" />
<line x1="378.40" y1="537.61" x2="380.40" y2="537.61" stroke="#666" stroke-width="0.8" />
<text x="376.10" y="539.81" font-size="6.2" fill="#333" font-weight="bold" text-anchor="end" >-0,3</text>
<line x1="380.40" y1="552.38" x2="645.60" y2="552.38" stroke="#e4e4e4" stroke-width="0.7" />
<line x1="378.40" y1="552.38" x2="380.40" y2="552.38" stroke="#666" stroke-width="0.8" />
<text x="376.10" y="554.58" font-size="6.2" fill="#333" font-weight="bold" text-anchor="end" >-0,4</text>
<line x1="380.40" y1="567.15" x2="645.60" y2="567.15" stroke="#e4e4e4" stroke-width="0.7" />
<line x1="378.40" y1="567.15" x2="380.40" y2="567.15" stroke="#666" stroke-width="0.8" />
<text x="376.10" y="569.35" font-size="6.2" fill="#333" font-weight="bold" text-anchor="end" >-0,5</text>
<line x1="380.40" y1="581.92" x2="645.60" y2="581.92" stroke="#e4e4e4" stroke-width="0.7" />
<line x1="378.40" y1="581.92" x2="380.40" y2="581.92" stroke="#666" stroke-width="0.8" />
<text x="376.10" y="584.12" font-size="6.2" fill="#333" font-weight="bold" text-anchor="end" >-0,6</text>
<line x1="380.40" y1="493.30" x2="645.60" y2="493.30" stroke="#bcbcbc" stroke-width="0.7" />
<line x1="380.40" y1="466.60" x2="645.60" y2="466.60" stroke="#aaa" stroke-width="0.8" />
<line x1="380.40" y1="466.60" x2="380.40" y2="711.50" stroke="#999" stroke-width="0.9" />
<line x1="645.60" y1="466.60" x2="645.60" y2="711.50" stroke="#bbb" stroke-width="0.8" />
<line x1="380.40" y1="584.40" x2="645.60" y2="584.40" stroke="#aaa" stroke-width="0.8" />
<line x1="380.40" y1="623.40" x2="645.60" y2="623.40" stroke="#ccc" stroke-width="0.6" />
<line x1="380.40" y1="633.40" x2="645.60" y2="633.40" stroke="#bbb" stroke-width="0.8" />
<line x1="380.40" y1="711.50" x2="645.60" y2="711.50" stroke="#888" stroke-width="0.9" />
<polyline points="380.80,485.80 383.80,472.50 389.60,474.10 395.50,475.30 403.00,479.20 410.60,484.60 420.00,487.00 431.60,492.80 440.90,495.10 461.90,507.00 485.20,520.50 503.90,531.30 520.00,540.50 538.90,550.80 557.80,561.20 573.00,568.80 590.00,574.50 605.10,578.30 609.90,575.80 615.60,579.20 619.30,570.70 622.20,561.20 623.70,552.30 626.00,545.10 627.90,526.20 629.70,516.80 631.60,496.00 632.60,493.10" fill="none" stroke="#18ee18" stroke-width="2.4" stroke-linejoin="round"/>
<line x1="382.60" y1="585.50" x2="382.60" y2="623.00" stroke="#1a1a1a" stroke-width="1.1" />
<line x1="388.70" y1="585.50" x2="388.70" y2="623.00" stroke="#7a7a7a" stroke-width="1.1" />
<line x1="396.10" y1="585.50" x2="396.10" y2="623.00" stroke="#7a7a7a" stroke-width="1.1" />
<line x1="412.50" y1="585.50" x2="412.50" y2="623.00" stroke="#1a1a1a" stroke-width="1.1" />
<line x1="416.50" y1="585.50" x2="416.50" y2="623.00" stroke="#a8a8a8" stroke-width="1.1" />
<line x1="418.60" y1="585.50" x2="418.60" y2="623.00" stroke="#1a1a1a" stroke-width="1.1" />
<line x1="424.40" y1="585.50" x2="424.40" y2="623.00" stroke="#1a1a1a" stroke-width="1.1" />
<line x1="430.50" y1="585.50" x2="430.50" y2="623.00" stroke="#1a1a1a" stroke-width="1.1" />
<line x1="432.50" y1="585.50" x2="432.50" y2="623.00" stroke="#a8a8a8" stroke-width="1.1" />
<line x1="435.60" y1="585.50" x2="435.60" y2="623.00" stroke="#a8a8a8" stroke-width="1.1" />
<line x1="437.60" y1="585.50" x2="437.60" y2="623.00" stroke="#a8a8a8" stroke-width="1.1" />
<line x1="439.70" y1="585.50" x2="439.70" y2="623.00" stroke="#1a1a1a" stroke-width="1.1" />
<line x1="449.30" y1="585.50" x2="449.30" y2="623.00" stroke="#1a1a1a" stroke-width="1.1" />
<line x1="452.70" y1="585.50" x2="452.70" y2="623.00" stroke="#7a7a7a" stroke-width="1.1" />
<line x1="458.50" y1="585.50" x2="458.50" y2="623.00" stroke="#1a1a1a" stroke-width="1.1" />
<line x1="464.40" y1="585.50" x2="464.40" y2="623.00" stroke="#1a1a1a" stroke-width="1.1" />
<line x1="468.50" y1="585.50" x2="468.50" y2="623.00" stroke="#7a7a7a" stroke-width="1.1" />
<line x1="472.50" y1="585.50" x2="472.50" y2="623.00" stroke="#1a1a1a" stroke-width="1.1" />
<line x1="480.60" y1="585.50" x2="480.60" y2="623.00" stroke="#1a1a1a" stroke-width="1.1" />
<line x1="481.40" y1="585.50" x2="481.40" y2="623.00" stroke="#1a1a1a" stroke-width="1.1" />
<line x1="495.50" y1="585.50" x2="495.50" y2="623.00" stroke="#1a1a1a" stroke-width="1.1" />
<line x1="500.60" y1="585.50" x2="500.60" y2="623.00" stroke="#7a7a7a" stroke-width="1.1" />
<line x1="518.70" y1="585.50" x2="518.70" y2="623.00" stroke="#7a7a7a" stroke-width="1.1" />
<line x1="522.80" y1="585.50" x2="522.80" y2="623.00" stroke="#7a7a7a" stroke-width="1.1" />
<line x1="525.70" y1="585.50" x2="525.70" y2="623.00" stroke="#7a7a7a" stroke-width="1.1" />
<line x1="532.70" y1="585.50" x2="532.70" y2="623.00" stroke="#a8a8a8" stroke-width="1.1" />
<line x1="535.60" y1="585.50" x2="535.60" y2="623.00" stroke="#a8a8a8" stroke-width="1.1" />
<line x1="541.40" y1="585.50" x2="541.40" y2="623.00" stroke="#1a1a1a" stroke-width="1.1" />
<line x1="548.40" y1="585.50" x2="548.40" y2="623.00" stroke="#a8a8a8" stroke-width="1.1" />
<line x1="551.30" y1="585.50" x2="551.30" y2="623.00" stroke="#a8a8a8" stroke-width="1.1" />
<rect x="556.40" y="585.50" width="1.80" height="37.50" fill="#555" />
<rect x="558.20" y="585.50" width="1.80" height="37.50" fill="#333" />
<rect x="560.00" y="585.50" width="2.00" height="37.50" fill="#222" />
<line x1="566.80" y1="585.50" x2="566.80" y2="623.00" stroke="#a8a8a8" stroke-width="1.1" />
<line x1="569.40" y1="585.50" x2="569.40" y2="623.00" stroke="#1a1a1a" stroke-width="1.1" />
<line x1="574.60" y1="585.50" x2="574.60" y2="623.00" stroke="#1a1a1a" stroke-width="1.1" />
<line x1="577.50" y1="585.50" x2="577.50" y2="623.00" stroke="#a8a8a8" stroke-width="1.1" />
<line x1="579.30" y1="585.50" x2="579.30" y2="623.00" stroke="#a8a8a8" stroke-width="1.1" />
<line x1="581.60" y1="585.50" x2="581.60" y2="623.00" stroke="#1a1a1a" stroke-width="1.1" />
<line x1="586.40" y1="585.50" x2="586.40" y2="623.00" stroke="#a8a8a8" stroke-width="1.1" />
<rect x="591.00" y="585.50" width="1.60" height="37.50" fill="#111" />
<rect x="592.60" y="585.50" width="0.80" height="37.50" fill="#777" />
<rect x="593.40" y="585.50" width="1.40" height="37.50" fill="#111" />
<line x1="597.90" y1="585.50" x2="597.90" y2="623.00" stroke="#1a1a1a" stroke-width="1.1" />
<line x1="601.00" y1="585.50" x2="601.00" y2="623.00" stroke="#888" stroke-width="1.1" />
<line x1="603.60" y1="585.50" x2="603.60" y2="623.00" stroke="#1a1a1a" stroke-width="1.1" />
<line x1="607.50" y1="585.50" x2="607.50" y2="623.00" stroke="#1a1a1a" stroke-width="1.1" />
<line x1="609.70" y1="585.50" x2="609.70" y2="623.00" stroke="#1a1a1a" stroke-width="1.1" />
<line x1="616.70" y1="585.50" x2="616.70" y2="623.00" stroke="#1a1a1a" stroke-width="1.1" />
<rect x="618.30" y="585.50" width="1.90" height="37.50" fill="#999" />
<line x1="620.70" y1="585.50" x2="620.70" y2="623.00" stroke="#1a1a1a" stroke-width="1.1" />
<line x1="622.80" y1="585.50" x2="622.80" y2="623.00" stroke="#1a1a1a" stroke-width="1.1" />
<rect x="625.80" y="585.50" width="6.30" height="37.50" fill="#000" />
<rect x="380.40" y="623.60" width="3.60" height="9.60" fill="#e83c3c" />
<rect x="384.00" y="623.60" width="28.00" height="9.60" fill="#fa5252" />
<rect x="412.00" y="623.60" width="24.00" height="9.60" fill="#f8606c" />
<rect x="436.00" y="623.60" width="19.70" height="9.60" fill="#f88a8a" />
<rect x="455.70" y="623.60" width="41.80" height="9.60" fill="#f8bce0" />
<rect x="497.70" y="623.60" width="43.80" height="9.60" fill="#d4d4f8" />
<rect x="541.50" y="623.60" width="33.80" height="9.60" fill="#c0bef4" />
<rect x="575.30" y="623.60" width="18.60" height="9.60" fill="#7474f0" />
<rect x="593.90" y="623.60" width="31.60" height="9.60" fill="#5a48e0" />
<rect x="625.50" y="623.60" width="7.40" height="9.60" fill="#2a08b8" />
<text x="482.30" y="489.80" font-size="15.0" fill="#111" textLength="145.00" lengthAdjust="spacingAndGlyphs" >NES = -1,57; p = 0,027</text>
<line x1="380.40" y1="667.00" x2="645.60" y2="667.00" stroke="#a8a8a8" stroke-width="0.9" />
<line x1="497.40" y1="633.40" x2="497.40" y2="711.50" stroke="#aaa" stroke-width="0.7" stroke-dasharray="2,1.5" />
<path d="M380.4,667 L380.4,645.7 Q382,656 386,660 Q396.9,663 412,664.5 Q440,666 500,666.8 L500,667 Z" fill="#c2c2c2"/>
<path d="M500,667 Q580,667.8 600,668.6 Q622,670.5 628,673 Q632,676 632.8,687 L632.8,667 Z" fill="#c2c2c2"/>
<line x1="380.40" y1="647.80" x2="645.60" y2="647.80" stroke="#e4e4e4" stroke-width="0.7" />
<line x1="378.40" y1="647.80" x2="380.40" y2="647.80" stroke="#888" stroke-width="0.7" />
<text x="376.10" y="650.10" font-size="6.6" fill="#333" font-weight="bold" text-anchor="end" >0,5</text>
<line x1="380.40" y1="667.00" x2="645.60" y2="667.00" stroke="#e4e4e4" stroke-width="0.7" />
<line x1="378.40" y1="667.00" x2="380.40" y2="667.00" stroke="#888" stroke-width="0.7" />
<text x="376.10" y="669.30" font-size="6.6" fill="#333" font-weight="bold" text-anchor="end" >0,0</text>
<line x1="380.40" y1="686.60" x2="645.60" y2="686.60" stroke="#e4e4e4" stroke-width="0.7" />
<line x1="378.40" y1="686.60" x2="380.40" y2="686.60" stroke="#888" stroke-width="0.7" />
<text x="376.10" y="688.90" font-size="6.6" fill="#333" font-weight="bold" text-anchor="end" >-0,5</text>
<line x1="380.40" y1="706.80" x2="645.60" y2="706.80" stroke="#e4e4e4" stroke-width="0.7" />
<line x1="378.40" y1="706.80" x2="380.40" y2="706.80" stroke="#888" stroke-width="0.7" />
<text x="376.10" y="709.10" font-size="6.6" fill="#333" font-weight="bold" text-anchor="end" >-1,0</text>
<line x1="380.40" y1="711.50" x2="380.40" y2="713.50" stroke="#888" stroke-width="0.7" />
<text x="380.40" y="720.40" font-size="6.0" fill="#333" font-weight="bold" text-anchor="middle" >0</text>
<line x1="414.30" y1="711.50" x2="414.30" y2="713.50" stroke="#888" stroke-width="0.7" />
<text x="414.30" y="720.40" font-size="6.0" fill="#333" font-weight="bold" text-anchor="middle" >2,500</text>
<line x1="448.20" y1="711.50" x2="448.20" y2="713.50" stroke="#888" stroke-width="0.7" />
<text x="448.20" y="720.40" font-size="6.0" fill="#333" font-weight="bold" text-anchor="middle" >5,000</text>
<line x1="482.10" y1="711.50" x2="482.10" y2="713.50" stroke="#888" stroke-width="0.7" />
<text x="482.10" y="720.40" font-size="6.0" fill="#333" font-weight="bold" text-anchor="middle" >7,500</text>
<line x1="516.00" y1="711.50" x2="516.00" y2="713.50" stroke="#888" stroke-width="0.7" />
<text x="516.00" y="720.40" font-size="6.0" fill="#333" font-weight="bold" text-anchor="middle" >10,000</text>
<line x1="549.90" y1="711.50" x2="549.90" y2="713.50" stroke="#888" stroke-width="0.7" />
<text x="549.90" y="720.40" font-size="6.0" fill="#333" font-weight="bold" text-anchor="middle" >12,500</text>
<line x1="583.80" y1="711.50" x2="583.80" y2="713.50" stroke="#888" stroke-width="0.7" />
<text x="583.80" y="720.40" font-size="6.0" fill="#333" font-weight="bold" text-anchor="middle" >15,000</text>
<line x1="617.70" y1="711.50" x2="617.70" y2="713.50" stroke="#888" stroke-width="0.7" />
<text x="617.70" y="720.40" font-size="6.0" fill="#333" font-weight="bold" text-anchor="middle" >17,500</text>
<text x="381.20" y="639.20" font-size="6.0" fill="#f01818" font-weight="bold" textLength="77.80" lengthAdjust="spacingAndGlyphs" >'neg' (positively correlated)</text>
<text x="512.50" y="708.60" font-size="6.0" fill="#1818e8" font-weight="bold" textLength="79.50" lengthAdjust="spacingAndGlyphs" >'pos' (negatively correlated)</text>
<text x="473.40" y="674.80" font-size="5.2" fill="#222" textLength="48.00" lengthAdjust="spacingAndGlyphs" >Zero cross at 8738</text>
<rect x="54.60" y="821.20" width="19.00" height="62.80" fill="#d4d4d4" stroke="#111" stroke-width="1.6" />
<rect x="84.10" y="863.20" width="18.40" height="20.80" fill="#9dc3f0" stroke="#111" stroke-width="1.6" />
<rect x="132.50" y="820.70" width="18.90" height="63.30" fill="#d4d4d4" stroke="#111" stroke-width="1.6" />
<rect x="161.60" y="850.40" width="18.90" height="33.60" fill="#9dc3f0" stroke="#111" stroke-width="1.6" />
<line x1="43.80" y1="788.90" x2="43.80" y2="884.00" stroke="#111" stroke-width="1.3" />
<line x1="43.20" y1="884.00" x2="190.70" y2="884.00" stroke="#111" stroke-width="1.3" />
<line x1="41.00" y1="788.90" x2="43.80" y2="788.90" stroke="#111" stroke-width="1.1" />
<text x="40.20" y="791.20" font-size="6.6" fill="#111" font-weight="bold" text-anchor="end" >1.5</text>
<line x1="41.00" y1="820.90" x2="43.80" y2="820.90" stroke="#111" stroke-width="1.1" />
<text x="40.20" y="823.20" font-size="6.6" fill="#111" font-weight="bold" text-anchor="end" >1.0</text>
<line x1="41.00" y1="852.50" x2="43.80" y2="852.50" stroke="#111" stroke-width="1.1" />
<text x="40.20" y="854.80" font-size="6.6" fill="#111" font-weight="bold" text-anchor="end" >0.5</text>
<line x1="41.00" y1="884.00" x2="43.80" y2="884.00" stroke="#111" stroke-width="1.1" />
<text x="40.20" y="886.30" font-size="6.6" fill="#111" font-weight="bold" text-anchor="end" >0.0</text>
<line x1="64.10" y1="818.80" x2="64.10" y2="821.20" stroke="#111" stroke-width="1.1" />
<line x1="60.10" y1="818.80" x2="68.10" y2="818.80" stroke="#111" stroke-width="1.1" />
<circle cx="64.00" cy="819.50" r="1.30" fill="#111" />
<circle cx="64.00" cy="822.00" r="1.30" fill="#111" />
<line x1="93.30" y1="861.30" x2="93.30" y2="863.20" stroke="#111" stroke-width="1.1" />
<line x1="89.30" y1="861.30" x2="97.30" y2="861.30" stroke="#111" stroke-width="1.1" />
<polygon points="90.50,862.85 93.50,862.85 92.00,860.15" fill="#111"/>
<circle cx="95.00" cy="860.50" r="1.30" fill="#111" />
<polygon points="90.50,867.85 93.50,867.85 92.00,865.15" fill="#111"/>
<line x1="141.95" y1="814.60" x2="141.95" y2="820.70" stroke="#111" stroke-width="1.1" />
<line x1="137.95" y1="814.60" x2="145.95" y2="814.60" stroke="#111" stroke-width="1.1" />
<circle cx="141.60" cy="814.80" r="1.30" fill="#111" />
<circle cx="141.60" cy="829.70" r="1.30" fill="#111" />
<line x1="171.05" y1="848.80" x2="171.05" y2="850.40" stroke="#111" stroke-width="1.1" />
<line x1="167.05" y1="848.80" x2="175.05" y2="848.80" stroke="#111" stroke-width="1.1" />
<polygon points="169.50,849.85 172.50,849.85 171.00,847.15" fill="#111"/>
<polygon points="169.50,854.35 172.50,854.35 171.00,851.65" fill="#111"/>
<polygon points="169.50,858.35 172.50,858.35 171.00,855.65" fill="#111"/>
<line x1="89.10" y1="841.30" x2="89.10" y2="847.70" stroke="#1a1a1a" stroke-width="1.35" stroke-linecap="round"/>
<line x1="86.33" y1="842.90" x2="91.87" y2="846.10" stroke="#1a1a1a" stroke-width="1.35" stroke-linecap="round"/>
<line x1="91.87" y1="842.90" x2="86.33" y2="846.10" stroke="#1a1a1a" stroke-width="1.35" stroke-linecap="round"/>
<line x1="97.60" y1="841.30" x2="97.60" y2="847.70" stroke="#1a1a1a" stroke-width="1.35" stroke-linecap="round"/>
<line x1="94.83" y1="842.90" x2="100.37" y2="846.10" stroke="#1a1a1a" stroke-width="1.35" stroke-linecap="round"/>
<line x1="100.37" y1="842.90" x2="94.83" y2="846.10" stroke="#1a1a1a" stroke-width="1.35" stroke-linecap="round"/>
<line x1="172.10" y1="830.90" x2="172.10" y2="837.30" stroke="#1a1a1a" stroke-width="1.35" stroke-linecap="round"/>
<line x1="169.33" y1="832.50" x2="174.87" y2="835.70" stroke="#1a1a1a" stroke-width="1.35" stroke-linecap="round"/>
<line x1="174.87" y1="832.50" x2="169.33" y2="835.70" stroke="#1a1a1a" stroke-width="1.35" stroke-linecap="round"/>
<line x1="78.40" y1="884.00" x2="78.40" y2="887.20" stroke="#111" stroke-width="1.2" />
<text x="78.40" y="896.00" font-size="6.6" fill="#111" font-weight="bold" text-anchor="middle" textLength="25.00" lengthAdjust="spacingAndGlyphs" >CCND1</text>
<line x1="156.50" y1="884.00" x2="156.50" y2="887.20" stroke="#111" stroke-width="1.2" />
<text x="156.50" y="896.00" font-size="6.6" fill="#111" font-weight="bold" text-anchor="middle" textLength="17.00" lengthAdjust="spacingAndGlyphs" >MYC</text>
<text x="12.50" y="833.60" font-size="7.0" fill="#111" font-weight="bold" text-anchor="middle" textLength="97.00" lengthAdjust="spacingAndGlyphs" transform="rotate(-90 12.50 833.60)" >WNT target gene expression</text>
<text x="22.00" y="833.90" font-size="7.0" fill="#333" text-anchor="middle" textLength="55.00" lengthAdjust="spacingAndGlyphs" transform="rotate(-90 22.00 833.90)" >(relative to GUS)</text>
<rect x="39.90" y="920.90" width="9.00" height="4.60" fill="#d4d4d4" stroke="#111" stroke-width="1.2" />
<text x="55.90" y="925.80" font-size="7.2" fill="#222" textLength="46.00" lengthAdjust="spacingAndGlyphs" >Cas9 control</text>
<rect x="118.50" y="920.90" width="8.10" height="4.60" fill="#9dc3f0" stroke="#111" stroke-width="1.2" />
<text x="132.50" y="925.80" font-size="7.2" fill="#222" textLength="33.50" lengthAdjust="spacingAndGlyphs" >FAT1 KO</text>
<text x="17.90" y="763.80" font-size="18.5" fill="#000" font-weight="bold" >h</text>
<rect x="244.40" y="820.40" width="19.00" height="63.20" fill="#d4d4d4" stroke="#111" stroke-width="1.6" />
<rect x="274.40" y="854.50" width="18.10" height="29.10" fill="#4a90e2" stroke="#111" stroke-width="1.6" />
<rect x="323.90" y="820.40" width="18.10" height="63.20" fill="#d4d4d4" stroke="#111" stroke-width="1.6" />
<rect x="353.00" y="872.00" width="19.00" height="11.60" fill="#4a90e2" stroke="#111" stroke-width="1.6" />
<line x1="233.70" y1="788.40" x2="233.70" y2="883.60" stroke="#111" stroke-width="1.3" />
<line x1="233.10" y1="883.60" x2="382.10" y2="883.60" stroke="#111" stroke-width="1.3" />
<line x1="230.90" y1="788.40" x2="233.70" y2="788.40" stroke="#111" stroke-width="1.1" />
<text x="230.10" y="790.70" font-size="6.6" fill="#111" font-weight="bold" text-anchor="end" >1.5</text>
<line x1="230.90" y1="820.40" x2="233.70" y2="820.40" stroke="#111" stroke-width="1.1" />
<text x="230.10" y="822.70" font-size="6.6" fill="#111" font-weight="bold" text-anchor="end" >1.0</text>
<line x1="230.90" y1="852.50" x2="233.70" y2="852.50" stroke="#111" stroke-width="1.1" />
<text x="230.10" y="854.80" font-size="6.6" fill="#111" font-weight="bold" text-anchor="end" >0.5</text>
<line x1="230.90" y1="883.60" x2="233.70" y2="883.60" stroke="#111" stroke-width="1.1" />
<text x="230.10" y="885.90" font-size="6.6" fill="#111" font-weight="bold" text-anchor="end" >0.0</text>
<line x1="253.90" y1="819.40" x2="253.90" y2="820.40" stroke="#111" stroke-width="1.1" />
<line x1="249.90" y1="819.40" x2="257.90" y2="819.40" stroke="#111" stroke-width="1.1" />
<circle cx="252.00" cy="820.00" r="1.30" fill="#111" />
<circle cx="254.00" cy="820.00" r="1.30" fill="#111" />
<circle cx="256.00" cy="820.00" r="1.30" fill="#111" />
<line x1="283.45" y1="850.40" x2="283.45" y2="854.50" stroke="#111" stroke-width="1.1" />
<line x1="279.45" y1="850.40" x2="287.45" y2="850.40" stroke="#111" stroke-width="1.1" />
<polygon points="281.50,844.85 284.50,844.85 283.00,842.15" fill="#111"/>
<polygon points="279.50,861.35 282.50,861.35 281.00,858.65" fill="#111"/>
<polygon points="283.50,861.35 286.50,861.35 285.00,858.65" fill="#111"/>
<line x1="332.95" y1="817.50" x2="332.95" y2="820.40" stroke="#111" stroke-width="1.1" />
<line x1="328.95" y1="817.50" x2="336.95" y2="817.50" stroke="#111" stroke-width="1.1" />
<polygon points="331.50,819.85 334.50,819.85 333.00,817.15" fill="#111"/>
<circle cx="333.00" cy="830.00" r="1.30" fill="#111" />
<line x1="362.50" y1="864.00" x2="362.50" y2="872.00" stroke="#111" stroke-width="1.1" />
<line x1="358.50" y1="864.00" x2="366.50" y2="864.00" stroke="#111" stroke-width="1.1" />
<polygon points="361.00,851.35 364.00,851.35 362.50,848.65" fill="#111"/>
<polygon points="358.50,882.35 361.50,882.35 360.00,879.65" fill="#111"/>
<polygon points="363.50,882.35 366.50,882.35 365.00,879.65" fill="#111"/>
<polygon points="361.00,877.35 364.00,877.35 362.50,874.65" fill="#111"/>
<line x1="279.10" y1="826.50" x2="279.10" y2="832.90" stroke="#1a1a1a" stroke-width="1.35" stroke-linecap="round"/>
<line x1="276.33" y1="828.10" x2="281.87" y2="831.30" stroke="#1a1a1a" stroke-width="1.35" stroke-linecap="round"/>
<line x1="281.87" y1="828.10" x2="276.33" y2="831.30" stroke="#1a1a1a" stroke-width="1.35" stroke-linecap="round"/>
<line x1="287.60" y1="826.50" x2="287.60" y2="832.90" stroke="#1a1a1a" stroke-width="1.35" stroke-linecap="round"/>
<line x1="284.83" y1="828.10" x2="290.37" y2="831.30" stroke="#1a1a1a" stroke-width="1.35" stroke-linecap="round"/>
<line x1="290.37" y1="828.10" x2="284.83" y2="831.30" stroke="#1a1a1a" stroke-width="1.35" stroke-linecap="round"/>
<line x1="362.90" y1="824.90" x2="362.90" y2="831.30" stroke="#1a1a1a" stroke-width="1.35" stroke-linecap="round"/>
<line x1="360.13" y1="826.50" x2="365.67" y2="829.70" stroke="#1a1a1a" stroke-width="1.35" stroke-linecap="round"/>
<line x1="365.67" y1="826.50" x2="360.13" y2="829.70" stroke="#1a1a1a" stroke-width="1.35" stroke-linecap="round"/>
<line x1="268.00" y1="883.60" x2="268.00" y2="886.80" stroke="#111" stroke-width="1.2" />
<text x="268.00" y="896.00" font-size="6.6" fill="#111" font-weight="bold" text-anchor="middle" textLength="25.00" lengthAdjust="spacingAndGlyphs" >CCND1</text>
<line x1="347.20" y1="883.60" x2="347.20" y2="886.80" stroke="#111" stroke-width="1.2" />
<text x="347.20" y="896.00" font-size="6.6" fill="#111" font-weight="bold" text-anchor="middle" textLength="15.00" lengthAdjust="spacingAndGlyphs" >LEF1</text>
<text x="203.50" y="833.60" font-size="7.0" fill="#111" font-weight="bold" text-anchor="middle" textLength="97.00" lengthAdjust="spacingAndGlyphs" transform="rotate(-90 203.50 833.60)" >WNT target gene expression</text>
<text x="214.00" y="833.90" font-size="7.0" fill="#333" text-anchor="middle" textLength="55.00" lengthAdjust="spacingAndGlyphs" transform="rotate(-90 214.00 833.90)" >(relative to GUS)</text>
<rect x="218.80" y="920.90" width="9.00" height="4.60" fill="#d4d4d4" stroke="#111" stroke-width="1.2" />
<text x="234.30" y="925.80" font-size="7.2" fill="#222" textLength="58.20" lengthAdjust="spacingAndGlyphs" >scramble siRNA</text>
<rect x="307.00" y="920.90" width="8.20" height="4.60" fill="#4a90e2" stroke="#111" stroke-width="1.2" />
<text x="321.60" y="925.80" font-size="7.2" fill="#222" textLength="58.20" lengthAdjust="spacingAndGlyphs" >FAT1 siRNA1+2</text>
<text x="391.00" y="762.60" font-size="18.5" fill="#000" font-weight="bold" >i</text>
<rect x="449.20" y="877.40" width="11.10" height="8.60" fill="#d6d6d6" stroke="#0a0a0a" stroke-width="2.0" />
<rect x="466.60" y="873.20" width="10.70" height="12.80" fill="#d6d6d6" stroke="#0a0a0a" stroke-width="2.0" />
<rect x="484.30" y="847.60" width="11.00" height="38.40" fill="#006400" stroke="#0a0a0a" stroke-width="2.0" />
<rect x="501.60" y="850.60" width="11.10" height="35.40" fill="#00b800" stroke="#0a0a0a" stroke-width="2.0" />
<rect x="519.30" y="866.90" width="10.90" height="19.10" fill="#a4f4a4" stroke="#0a0a0a" stroke-width="2.0" />
<rect x="548.70" y="877.40" width="10.90" height="8.60" fill="#d6d6d6" stroke="#0a0a0a" stroke-width="2.0" />
<rect x="566.10" y="880.90" width="11.40" height="5.10" fill="#d6d6d6" stroke="#0a0a0a" stroke-width="2.0" />
<rect x="584.10" y="798.20" width="10.90" height="87.80" fill="#006400" stroke="#0a0a0a" stroke-width="2.0" />
<rect x="601.50" y="812.20" width="11.00" height="73.80" fill="#00b800" stroke="#0a0a0a" stroke-width="2.0" />
<rect x="619.00" y="828.50" width="11.20" height="57.50" fill="#a4f4a4" stroke="#0a0a0a" stroke-width="2.0" />
<line x1="442.90" y1="761.00" x2="442.90" y2="886.00" stroke="#111" stroke-width="1.4" />
<line x1="442.30" y1="886.00" x2="636.30" y2="886.00" stroke="#111" stroke-width="1.4" />
<line x1="440.00" y1="761.00" x2="442.90" y2="761.00" stroke="#111" stroke-width="1.2" />
<text x="437.20" y="764.40" font-size="9.4" fill="#111" font-weight="bold" text-anchor="end" >5</text>
<line x1="440.00" y1="789.80" x2="442.90" y2="789.80" stroke="#111" stroke-width="1.2" />
<text x="437.20" y="793.20" font-size="9.4" fill="#111" font-weight="bold" text-anchor="end" >4</text>
<line x1="440.00" y1="819.00" x2="442.90" y2="819.00" stroke="#111" stroke-width="1.2" />
<text x="437.20" y="822.40" font-size="9.4" fill="#111" font-weight="bold" text-anchor="end" >3</text>
<line x1="440.00" y1="848.30" x2="442.90" y2="848.30" stroke="#111" stroke-width="1.2" />
<text x="437.20" y="851.70" font-size="9.4" fill="#111" font-weight="bold" text-anchor="end" >2</text>
<line x1="440.00" y1="877.40" x2="442.90" y2="877.40" stroke="#111" stroke-width="1.2" />
<text x="437.20" y="880.80" font-size="9.4" fill="#111" font-weight="bold" text-anchor="end" >1</text>
<line x1="489.80" y1="839.70" x2="489.80" y2="847.60" stroke="#111" stroke-width="1.2" />
<line x1="486.60" y1="839.70" x2="493.00" y2="839.70" stroke="#111" stroke-width="1.2" />
<line x1="507.15" y1="842.50" x2="507.15" y2="850.60" stroke="#111" stroke-width="1.2" />
<line x1="503.95" y1="842.50" x2="510.35" y2="842.50" stroke="#111" stroke-width="1.2" />
<line x1="524.75" y1="861.60" x2="524.75" y2="866.90" stroke="#111" stroke-width="1.2" />
<line x1="521.55" y1="861.60" x2="527.95" y2="861.60" stroke="#111" stroke-width="1.2" />
<line x1="571.80" y1="873.50" x2="571.80" y2="880.90" stroke="#111" stroke-width="1.2" />
<line x1="568.60" y1="873.50" x2="575.00" y2="873.50" stroke="#111" stroke-width="1.2" />
<line x1="589.55" y1="788.90" x2="589.55" y2="798.20" stroke="#111" stroke-width="1.2" />
<line x1="586.35" y1="788.90" x2="592.75" y2="788.90" stroke="#111" stroke-width="1.2" />
<line x1="607.00" y1="794.70" x2="607.00" y2="812.20" stroke="#111" stroke-width="1.2" />
<line x1="603.80" y1="794.70" x2="610.20" y2="794.70" stroke="#111" stroke-width="1.2" />
<line x1="624.60" y1="823.40" x2="624.60" y2="828.50" stroke="#111" stroke-width="1.2" />
<line x1="621.40" y1="823.40" x2="627.80" y2="823.40" stroke="#111" stroke-width="1.2" />
<circle cx="452.50" cy="876.50" r="1.50" fill="#111" />
<circle cx="455.50" cy="875.50" r="1.50" fill="#111" />
<circle cx="458.00" cy="874.20" r="1.50" fill="#111" />
<polygon points="470.00,872.62 473.60,872.62 471.80,869.38" fill="#111"/>
<circle cx="469.50" cy="874.50" r="1.50" fill="#111" />
<polygon points="487.90,831.12 491.50,831.12 489.70,827.88" fill="#111"/>
<polygon points="487.90,845.12 491.50,845.12 489.70,841.88" fill="#111"/>
<circle cx="489.70" cy="862.50" r="1.50" fill="#111" />
<polygon points="505.70,826.98 509.30,826.98 507.50,830.22" fill="#111"/>
<polygon points="505.70,835.78 509.30,835.78 507.50,839.02" fill="#111"/>
<polygon points="505.70,854.88 509.30,854.88 507.50,858.12" fill="#111"/>
<polygon points="502.70,852.88 506.30,852.88 504.50,856.12" fill="#111"/>
<polygon points="508.70,852.88 512.30,852.88 510.50,856.12" fill="#111"/>
<circle cx="524.90" cy="859.20" r="1.50" fill="#111" />
<circle cx="524.90" cy="874.50" r="1.50" fill="#111" />
<circle cx="554.20" cy="876.50" r="1.50" fill="#111" />
<circle cx="572.00" cy="873.50" r="1.50" fill="#111" />
<polygon points="587.60,783.42 591.20,783.42 589.40,780.18" fill="#111"/>
<circle cx="589.40" cy="803.50" r="1.50" fill="#111" />
<circle cx="589.40" cy="811.50" r="1.50" fill="#111" />
<polygon points="605.40,779.38 609.00,779.38 607.20,782.62" fill="#111"/>
<polygon points="605.40,813.38 609.00,813.38 607.20,816.62" fill="#111"/>
<circle cx="607.20" cy="839.50" r="1.50" fill="#111" />
<polygon points="622.80,826.42 626.40,826.42 624.60,823.18" fill="#111"/>
<polygon points="619.70,829.88 623.30,829.88 621.50,833.12" fill="#111"/>
<line x1="489.80" y1="886.00" x2="489.80" y2="890.50" stroke="#111" stroke-width="1.3" />
<line x1="589.20" y1="886.00" x2="589.20" y2="890.50" stroke="#111" stroke-width="1.3" />
<text x="489.50" y="901.50" font-size="8.6" fill="#111" font-weight="bold" text-anchor="middle" textLength="29.00" lengthAdjust="spacingAndGlyphs" >Jurkat</text>
<text x="589.00" y="901.50" font-size="8.6" fill="#111" font-weight="bold" text-anchor="middle" textLength="23.30" lengthAdjust="spacingAndGlyphs" >BE13</text>
<line x1="485.43" y1="801.95" x2="485.43" y2="807.85" stroke="#1a1a1a" stroke-width="1.35" stroke-linecap="round"/>
<line x1="482.87" y1="803.42" x2="487.98" y2="806.38" stroke="#1a1a1a" stroke-width="1.35" stroke-linecap="round"/>
<line x1="487.98" y1="803.42" x2="482.87" y2="806.38" stroke="#1a1a1a" stroke-width="1.35" stroke-linecap="round"/>
<line x1="493.57" y1="801.95" x2="493.57" y2="807.85" stroke="#1a1a1a" stroke-width="1.35" stroke-linecap="round"/>
<line x1="491.02" y1="803.42" x2="496.13" y2="806.38" stroke="#1a1a1a" stroke-width="1.35" stroke-linecap="round"/>
<line x1="496.13" y1="803.42" x2="491.02" y2="806.38" stroke="#1a1a1a" stroke-width="1.35" stroke-linecap="round"/>
<line x1="507.80" y1="815.25" x2="507.80" y2="821.15" stroke="#1a1a1a" stroke-width="1.35" stroke-linecap="round"/>
<line x1="505.25" y1="816.73" x2="510.35" y2="819.68" stroke="#1a1a1a" stroke-width="1.35" stroke-linecap="round"/>
<line x1="510.35" y1="816.73" x2="505.25" y2="819.68" stroke="#1a1a1a" stroke-width="1.35" stroke-linecap="round"/>
<line x1="524.90" y1="839.85" x2="524.90" y2="845.75" stroke="#1a1a1a" stroke-width="1.35" stroke-linecap="round"/>
<line x1="522.35" y1="841.32" x2="527.45" y2="844.27" stroke="#1a1a1a" stroke-width="1.35" stroke-linecap="round"/>
<line x1="527.45" y1="841.32" x2="522.35" y2="844.27" stroke="#1a1a1a" stroke-width="1.35" stroke-linecap="round"/>
<line x1="584.17" y1="768.25" x2="584.17" y2="774.15" stroke="#1a1a1a" stroke-width="1.35" stroke-linecap="round"/>
<line x1="581.62" y1="769.73" x2="586.73" y2="772.68" stroke="#1a1a1a" stroke-width="1.35" stroke-linecap="round"/>
<line x1="586.73" y1="769.73" x2="581.62" y2="772.68" stroke="#1a1a1a" stroke-width="1.35" stroke-linecap="round"/>
<line x1="592.32" y1="768.25" x2="592.32" y2="774.15" stroke="#1a1a1a" stroke-width="1.35" stroke-linecap="round"/>
<line x1="589.77" y1="769.73" x2="594.88" y2="772.68" stroke="#1a1a1a" stroke-width="1.35" stroke-linecap="round"/>
<line x1="594.88" y1="769.73" x2="589.77" y2="772.68" stroke="#1a1a1a" stroke-width="1.35" stroke-linecap="round"/>
<line x1="621.02" y1="811.75" x2="621.02" y2="817.65" stroke="#1a1a1a" stroke-width="1.35" stroke-linecap="round"/>
<line x1="618.47" y1="813.23" x2="623.58" y2="816.18" stroke="#1a1a1a" stroke-width="1.35" stroke-linecap="round"/>
<line x1="623.58" y1="813.23" x2="618.47" y2="816.18" stroke="#1a1a1a" stroke-width="1.35" stroke-linecap="round"/>
<line x1="629.17" y1="811.75" x2="629.17" y2="817.65" stroke="#1a1a1a" stroke-width="1.35" stroke-linecap="round"/>
<line x1="626.62" y1="813.23" x2="631.73" y2="816.18" stroke="#1a1a1a" stroke-width="1.35" stroke-linecap="round"/>
<line x1="631.73" y1="813.23" x2="626.62" y2="816.18" stroke="#1a1a1a" stroke-width="1.35" stroke-linecap="round"/>
<text x="410.20" y="822.70" font-size="7.6" fill="#111" font-weight="bold" text-anchor="middle" textLength="86.00" lengthAdjust="spacingAndGlyphs" transform="rotate(-90 410.20 822.70)" >Relative <tspan font-style="italic">FAT1</tspan> expression</text>
<text x="421.00" y="821.50" font-size="7.6" fill="#333" text-anchor="middle" textLength="119.00" lengthAdjust="spacingAndGlyphs" transform="rotate(-90 421.00 821.50)" >(normalized for untreated control)</text>
<rect x="459.60" y="920.90" width="9.30" height="4.60" fill="#d6d6d6" stroke="#111" stroke-width="1.2" />
<text x="474.90" y="925.70" font-size="6.8" fill="#222" textLength="44.20" lengthAdjust="spacingAndGlyphs" >untreated ctr</text>
<rect x="526.90" y="920.90" width="8.90" height="4.60" fill="#d6d6d6" stroke="#111" stroke-width="1.2" />
<text x="541.40" y="925.70" font-size="6.8" fill="#222" textLength="34.50" lengthAdjust="spacingAndGlyphs" >DMSO ctr</text>
<rect x="459.60" y="931.60" width="9.30" height="4.60" fill="#006400" stroke="#111" stroke-width="1.2" />
<text x="474.90" y="936.40" font-size="6.8" fill="#222" textLength="37.00" lengthAdjust="spacingAndGlyphs" >10 μM BIO</text>
<rect x="526.90" y="931.60" width="8.90" height="4.60" fill="#00b800" stroke="#111" stroke-width="1.2" />
<text x="541.40" y="936.40" font-size="6.8" fill="#222" textLength="33.40" lengthAdjust="spacingAndGlyphs" >5 μM BIO</text>
<rect x="582.60" y="931.60" width="7.80" height="4.60" fill="#a4f4a4" stroke="#111" stroke-width="1.2" />
<text x="597.10" y="936.40" font-size="6.8" fill="#222" textLength="32.80" lengthAdjust="spacingAndGlyphs" >1 μM BIO</text>
</svg></body></html>
